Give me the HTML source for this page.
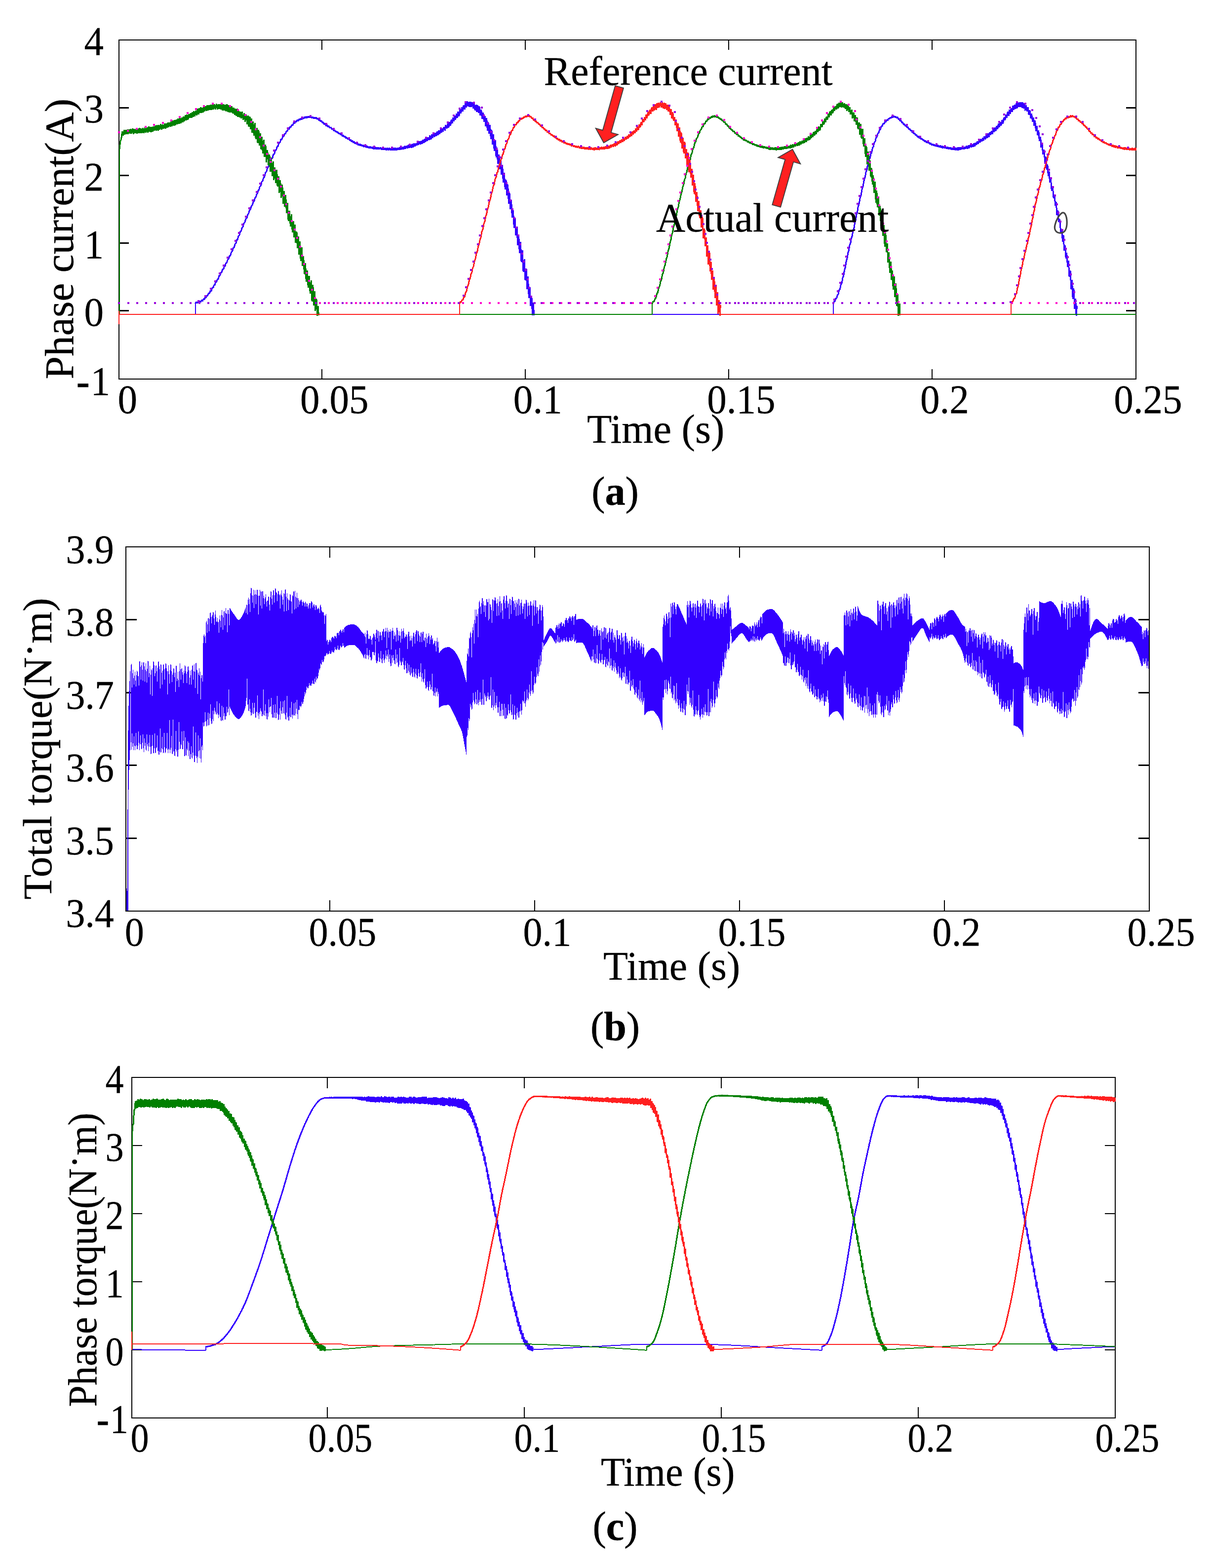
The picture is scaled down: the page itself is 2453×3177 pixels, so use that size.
<!DOCTYPE html>
<html lang="en">
<head>
<meta charset="utf-8">
<title>Phase current, total torque and phase torque</title>
<style>
html, body { margin: 0; padding: 0; background: #fff; }
body { width: 2453px; height: 3177px; overflow: hidden; }
svg { display: block; }
svg text { font-family: "Liberation Serif", serif; fill: #000; }
</style>
</head>
<body>
<svg width="2453" height="3177" viewBox="0 0 2453 3177">
<rect width="2453" height="3177" fill="#fff"/>
<g id="plot-a">
<rect x="241" y="81" width="2060" height="687" fill="none" stroke="#000" stroke-width="2" shape-rendering="crispEdges"/>
<path d="M652,768v-20M652,81v20M1064,768v-20M1064,81v20M1476,768v-20M1476,81v20M1888,768v-20M1888,81v20" stroke="#000" stroke-width="2" fill="none" shape-rendering="crispEdges"/>
<path d="M241,218.5h20M2301,218.5h-20M241,355.5h20M2301,355.5h-20M241,492.5h20M2301,492.5h-20M241,629.5h20M2301,629.5h-20" stroke="#000" stroke-width="3" fill="none" shape-rendering="crispEdges"/>
<path d="M241,637.0H395.5M395.5,637.0V613M1081.4,637.0H1688.2M1688.2,637.0V613M2181.4,637.0H2301" stroke="#3300FF" stroke-width="2" fill="none" shape-rendering="crispEdges"/>
<path d="M395.5,615.1L397.3,611.7L399.1,614.7L401,611.4L402.8,613.7L404.8,610.1L406.5,611.9L408.5,608.1L410,610.6L412.1,605.6L414,606.8L415.4,602.5L416.9,603.6L418.5,599.3L420.3,599.7L422.3,594.3L424.2,594.8L426.2,589.2L427.8,590L430,583L431.9,582.8L433.5,577.3L435,577.7L436.7,571.3L438.4,571.8L440.5,565.3L442.1,565.4L443.9,558.7L445.6,558.5L447.5,552.2L449.1,552L450.8,545.9L452.8,545.1L454.4,539.6L455.9,539.6L457.5,533.3L459.2,532.6L461.2,526.2L463.1,524.8L464.8,518.7L466.5,518.4L468.5,511L470.6,509.3L472.3,502.5L474.2,501.2L476.3,493.8L478,493L479.6,486.1L481.1,485.2L483,478.3L484.9,476.6L486.6,469.2L488.4,468.3L490.5,460.6L492,460L494.1,452.1L495.6,451.4L497.8,443.6L499.9,441.8L501.8,434.4L503.3,433.5L505.4,426.2L507.4,424.4L509.4,416.9L511,415.9L513,409L514.6,408L516.7,400.2L518.3,399.8L519.9,393.2L521.5,392L523,385.8L524.7,384.7L526.2,378.2L528.3,376.4L530.2,368.4L532.1,366.7L533.6,360.6L535.7,358.2L537.8,350.1L539.7,348.1L541.7,340.5L543.8,337.9L545.6,330.8L547.7,329.3L549.7,321.7L551.8,320.2L553.7,312.9L555.8,311.6L557.8,304.2L559.6,303.6L561.4,297L563.2,296L565.1,289.3L567.2,288.9L568.9,282.6L570.8,282.6L572.8,276.7L574.8,276L576.7,270.6L578.3,271.3L580.1,265.7L582.2,265.8L583.6,261.4L585.6,261.8L587.1,257L589,258.1L591.1,253L593,253.6L594.8,248.9L596.9,250.3L598.6,245.6L600.3,247.1L602.1,243L604.1,245.2L606.2,241.2L607.8,243.3L609.4,239.8L611.2,241.9L613,238.3L615,240.7L616.8,237.2L618.3,239.7L619.7,236.1L621.6,238.7L623.6,236L625.1,238.7L626.6,235.6L628.2,238.6L629.7,236L631.4,239.3L633.3,236.4L635.5,240.1L637.1,237.4L638.6,240.3L640.4,238L642,241.6L643.7,239.4L645.5,243.6L647.5,241.9L649.5,246.5L651,244.2L652.9,248.7L654.7,247.3L656.8,251.9L658.6,250.1L660.7,254.9L662.4,252.7L664,256.9L666,255.1L668,259.3L670.1,257.6L672.2,262.3L674.2,260.7L676.3,265.2L678,263.4L679.8,267.2L681.8,265.5L683.2,269.6L684.7,267.2L686.3,271.2L688.3,269.8L689.8,273.5L691.8,271.5L693.7,276.1L695.5,273.7L697,277.7L698.9,276.2L700.8,280.4L702.6,278.2L704.5,282.4L706.2,280.4L708.3,284.7L710.3,282.8L712.2,287.2L713.7,285L715.5,289.2L717,286.5L718.8,290.8L720.8,288.6L722.6,292.8L724.1,290L725.9,294.3L728,291.6L729.7,295.1L731.5,292.3L733.6,296.5L735.2,293.8L737.1,297.9L738.7,294.2L740.1,298.1L741.7,295L743.4,299.1L745.3,296.3L747.2,299.8L749.1,296.9L750.6,300.8L752.4,297.4L754.1,301.4L755.7,298L757.6,301.9L759.4,297.8L761.3,302.5L762.9,298.2L764.9,302.9L766.6,298.8L768.7,302.7L770.8,298.7L772.4,303.1L774.3,299.5L775.9,303.9L777.6,299.2L779.1,303.7L781.1,300.1L782.6,304.2L784.7,299.3L786.3,304.3L788.3,299.8L790.2,304.1L791.7,300.3L793.1,304.5L795,299.8L796.5,304.2L798.1,299.4L800.2,304.9L801.7,299.9L803.9,304.2L805.9,299.2L807.6,303.8L809.4,298.3L810.8,303.6L812.9,298.2L814.7,303L816.4,297.4L817.9,302.2L819.4,295.9L821.4,301.7L823.5,295.2L825.2,300.8L827,293.9L829,299.5L831.1,293.1L833.1,299.3L834.9,291.9L836.9,298.2L838.9,290.8L840.7,297.1L842.1,290.2L843.9,295L845.6,288.4L847.5,293.9L849.6,286.6L851.3,292.9L853.2,285.1L854.9,291.8L856.8,283L858.8,289.9L860.2,281.3L862.2,287.1L863.9,280.1L865.5,285.5L867,278L869.1,283.9L870.9,274.7L872.8,282.6L874.7,272.7L876.2,280.1L878.1,271.9L880.3,277.1L882,269.4L883.8,275.8L885.3,266L887.1,273.7L888.9,264.6L890.6,271.7L892.4,262.3L894.4,268.6L895.8,259.9L897.3,266.2L899.3,257L901.4,264.3L902.8,253.1L905,260.2L907.1,250.5L908.8,258.7L910.5,247.1L912.6,254.5L914.3,242L916.4,250.1L917.9,238.5L919.7,245.4L921.1,234.7L922.7,242.3L924.6,230.6L926.2,238.4L928,225.9L929.8,235.4L931.9,221.7L933.5,229.6L935.6,217.3L937.5,225.5L939.1,213.2L941,222L942.9,208.9L944.4,217.9L946.6,205.6L948.7,215.5L950.1,206.3L951.9,217.1L953.4,205.9L954.9,216.9L956.8,207L958.7,219.8L960.5,209.7L962.2,223.3L964.2,212.3L965.8,226.4L967.7,212.7L969.2,228.5L970.9,215.6L972.6,233.6L974.7,222.3L976.6,240.9L978.7,227.9L980.4,246.4L982.4,235.3L983.9,255.8L985.7,238.7L987.4,265L988.9,247.3L990.8,270.9L992.5,252.9L994.4,282.1L995.9,263.6L997.9,292.6L999.4,271.8L1001.3,306.3L1003.4,283.8L1005.2,319.2L1006.8,299.1L1008.5,332.2L1010.6,313L1012.3,342.6L1014,324L1015.7,353.6L1017.6,334L1019.4,370.1L1021.3,350.3L1023.3,384.2L1024.9,364.5L1026.7,395.7L1028.6,373.6L1030.5,412.8L1031.9,390.4L1034,424.2L1035.5,404.9L1037.5,440.6L1039.4,426.4L1041.4,461.6L1043,442.1L1045,477.3L1047,459.1L1048.7,496.9L1050.6,475.1L1052.4,513L1054.4,489.7L1056.1,531.4L1058.1,506.8L1060.1,550.6L1062.2,525.1L1064.1,568.2L1066,544.2L1067.7,585.8L1069.3,560.2L1071.4,604L1073,581.8L1074.8,620.2L1076.9,601.4L1078.6,638.6L1080.5,613.3L1081.4,639.1" stroke="#3300FF" stroke-width="3.0" fill="none" stroke-linejoin="bevel" shape-rendering="crispEdges"/>
<path d="M1688.2,615.3L1689.7,610.5L1691.2,610.7L1692.8,604.9L1694.7,604L1696.3,597.6L1697.9,596.6L1699.5,588.7L1701.5,585.6L1703.2,577.1L1705.3,573.1L1707.1,562.7L1708.9,557.9L1710.4,547.9L1712.4,541.2L1714.2,529.2L1715.8,524.3L1717.8,512L1719.2,508.1L1720.9,497.5L1722.9,492.3L1724.4,482.9L1726.1,478.5L1728.2,466.7L1730.1,461.5L1731.7,450.6L1733.2,446.2L1734.7,435.8L1736.7,429.1L1738.2,419L1740.2,412.6L1742,401.7L1744.1,395.1L1746.2,382.9L1748.2,376.8L1750.3,364.9L1752.3,358.8L1754.1,348.4L1755.7,345.3L1757.3,335.8L1758.8,332.8L1760.6,323.4L1762.3,320.5L1763.8,312.1L1765.6,309.2L1767.6,299L1769.1,297.4L1771,288.8L1772.9,286.4L1774.3,279.4L1776.4,277.5L1778.2,270.3L1779.9,269.2L1781.6,262.6L1783.3,262L1784.9,256.1L1786.9,255.6L1789,250L1791,250.8L1793,246.2L1794.6,247.1L1796.5,242.5L1798.1,244.2L1800.1,239.6L1801.6,241.3L1803.2,237.8L1804.9,239.3L1807,235.7L1808.8,238.2L1810.8,234.6L1812.5,237.7L1814.3,235.6L1816,239.1L1818.1,237.2L1820.1,242L1821.5,240.4L1823.2,245L1824.7,243.6L1826.5,248.6L1828.5,247.5L1830.1,252.3L1832.2,251.2L1833.9,255.7L1835.4,253.8L1837.6,258.8L1839.5,257.4L1841.1,262.3L1843,261L1844.5,265L1846.4,263.8L1848,268.7L1849.7,267L1851.3,271.6L1852.8,269.4L1854.6,274.3L1856.5,272.9L1858.6,277.7L1860.6,275.9L1862.1,280.2L1863.8,277.8L1865.4,282.1L1867.4,280.5L1869.3,284.2L1870.7,282.6L1872.9,286.9L1874.8,284.9L1876.7,289L1878.4,286.6L1880.5,290.5L1882,288.5L1883.6,292.3L1885.4,290.2L1887.2,293.8L1889.1,291.4L1891,295L1892.9,292.7L1895,296.5L1896.8,293.5L1898.7,297.6L1900.7,294.1L1902.5,298.8L1904.5,294.9L1906.3,299.3L1908.1,295.6L1909.9,300.2L1911.7,296.3L1913.4,300.6L1915.3,297L1917.3,301.8L1919.3,298.1L1921.1,302L1922.7,298.5L1924.5,302.8L1925.9,298.6L1927.8,303L1929.4,299.2L1931,303.2L1933.1,298.8L1935,304.2L1936.8,299L1938.4,304.2L1940.2,298.8L1941.8,304.1L1943.3,298.8L1945.4,303L1947,298.5L1948.7,302.6L1950.8,297.2L1952.5,302.2L1954.4,297.1L1955.8,302.1L1957.5,295.8L1959.6,301.3L1961.4,294.9L1963,300.3L1965.1,293.8L1967.2,298.5L1968.9,292.5L1971,298L1972.6,290.4L1974.2,296.5L1975.7,289.5L1977.6,294L1979.7,286.1L1981.7,291.4L1983.6,283.4L1985.4,288.9L1987,281.9L1988.9,286.7L1990.5,279.5L1992.4,285.1L1994.1,276.1L1996.2,282.2L1997.8,273.9L1999.9,279.6L2001.5,270.5L2003,277.8L2004.8,267.9L2006.6,273.4L2008.5,265.1L2010.1,271.7L2011.6,262.3L2013.6,267.7L2015.2,258.4L2016.8,265.9L2019,255.6L2020.7,261.9L2022.5,250.4L2024.3,257.4L2026.1,247.1L2027.8,254.6L2029.8,243L2031.6,250.4L2033.5,238L2035.7,243.6L2037.7,232.8L2039.5,238.3L2041.3,226.4L2043.3,234.5L2044.9,222.2L2046.5,230.3L2048.3,219.3L2050.2,227L2052,214.2L2053.6,223L2055.1,212.3L2056.8,220.9L2058.4,208.8L2059.9,219.8L2061.8,207.4L2063.8,216.9L2065.3,207.1L2066.8,217.2L2068.7,207L2070.3,219.1L2071.8,207.6L2073.4,220.2L2075,209.7L2077,224.3L2078.5,213L2080.2,225.6L2082.3,217.6L2084.1,232.3L2086.3,223.7L2088,239.9L2089.5,230.1L2091.6,246.4L2093.3,238.4L2095,254.5L2096.5,243.7L2098.5,265.6L2100.1,255.5L2101.9,274.3L2103.7,264L2105.4,285.9L2107.6,277.3L2109,298.6L2110.9,290.7L2112.6,312.6L2114.7,302.9L2116.8,328.2L2118.5,317.4L2120.2,343.7L2121.8,333.1L2123.4,356.4L2124.9,346.7L2126.5,369.4L2128.2,359.7L2130.3,386.8L2132.4,378.9L2134.1,401.3L2136.1,394.6L2137.7,417.3L2139.3,409.5L2141,435.9L2142.9,426.5L2144.6,450.1L2146.8,444.1L2148.7,472L2150.8,465.1L2152.5,489.5L2154,476.5L2155.7,507.8L2157.5,496.7L2159.2,524.2L2160.7,511.9L2162.6,541.2L2164.2,528.1L2166.1,561.1L2168,548.4L2170,586.4L2171.5,567.4L2173.2,605.7L2174.9,584.5L2177,626.1L2178.6,605.3L2180.2,640L2181.4,619.5" stroke="#3300FF" stroke-width="3.0" fill="none" stroke-linejoin="bevel" shape-rendering="crispEdges"/>
<path d="M241.6,637.0V300M645.2,637.0H1321M1321,637.0V613M1822.5,637.0H2301" stroke="#008000" stroke-width="2" fill="none" shape-rendering="crispEdges"/>
<path d="M242,302L243.7,287.3L245.8,280L247.7,266.7L249.8,274.4L251.4,262.8L252.9,272.5L254.7,263.4L256.4,271.7L258.2,262.4L259.7,271.4L261.5,262.2L263.4,270.7L264.9,261.5L266.7,270.3L268.5,260.5L270.4,271.3L271.8,261L273.5,269.8L275.3,261.5L277.1,270.7L278.8,260.8L280.5,269.3L282.2,259.3L284,269.6L285.9,260.5L287.7,270L289.8,259.7L291.7,270.2L293.7,258.6L295.6,268.4L297.3,258.7L299.3,268.8L301.1,256.6L302.5,266.6L304.3,257.3L306,267.7L307.6,256.8L309.2,266.4L310.8,256.5L312.6,265L314.2,254.7L316.1,264.6L318,253.7L320.1,264.6L321.7,253.3L323.8,262.4L325.8,251.7L327.7,262.9L329.7,251.9L331.6,261L333.5,250.6L335.1,260.7L337,250L338.6,258.9L340.1,248.5L341.7,257.5L343.2,248.6L345.1,256.6L346.9,246L348.7,255.6L350.7,244.5L352.2,254.6L354,243.4L355.7,254.2L357.3,242.2L359,251.9L361,240.2L363,250.6L364.8,238.8L366.7,249.5L368.7,238.2L370.4,247.4L372,236.5L373.5,245.7L375.6,233L377.1,244.1L378.9,232.1L380.6,242.9L382.7,231.3L384.7,239L386.2,229L388.1,239.2L389.7,227.2L391.1,236.7L392.9,225.5L394.6,235.7L396.6,224L398.3,233.5L400.3,220.6L402,231.9L403.9,219.4L405.4,229.2L406.9,217.7L408.6,228.6L410.1,217.8L411.5,227.6L413.1,216L414.7,225.8L416.5,215.5L418.1,224.3L419.6,213.3L421.3,223.3L422.9,213.2L425,222.5L427.1,211.9L428.8,222.8L430.5,212L432.4,221.7L434.3,210.9L436.4,221.8L438.5,210.4L440.6,221.6L442.1,211.4L443.7,220.5L445.2,210.8L447.2,221.5L449,212L450.6,223.7L452,211.1L454.1,224L456,212L458,225.3L460,211.5L461.5,226.9L463.3,213.2L464.9,228.1L466.4,214.5L468,228L469.7,215.5L471.7,229.7L473.6,218L475.2,233.2L476.9,220.4L478.6,234.7L480.2,220.2L482,236.6L483.6,224L485.1,237.6L486.9,226.1L488.7,240.1L490.3,226.6L492.5,242.7L494.5,229.5L496.5,246.4L498.7,231.9L500.8,251.9L502.5,234.1L504.1,256.7L506,236.6L507.7,261.7L509.4,240.1L511,269.2L512.7,245.8L514.3,274.8L516.3,249.6L518.2,281.7L520.1,259.6L522.1,290.3L523.9,263.4L525.6,295.3L527.2,270.3L529.1,303.2L530.6,277.1L532.3,310.7L534.2,283.3L535.7,317.8L537.9,293L539.5,328.5L541.7,304.1L543.8,335L545.9,313.6L547.5,348.3L549.4,318.9L551.5,357.1L553.3,327.1L554.8,365L556.7,339.4L558.7,371.4L560.6,344.2L562.1,378.2L564.1,357.3L565.9,390.6L567.7,365.4L569.7,401.1L571.7,374.4L573.8,412.9L575.3,387.1L576.8,418.5L578.5,395.1L580.6,432.3L582.1,411L584.2,448.2L586.3,426.9L588.4,459.2L590.3,433.9L592.3,470.5L594.2,447.9L595.7,481.1L597.3,455.5L599,492.3L600.9,468.8L602.5,503.4L604.2,479.4L605.8,515.7L607.6,489.4L609.2,528.7L611.1,500.7L612.8,539.2L614.6,519L616.5,555.4L618.5,533.5L620.3,571L622.4,547.7L624.3,583L626.2,559.4L628.3,595L630.3,567.9L632.1,610.8L633.8,577.2L635.7,618.7L637.2,590.3L638.8,630L640.9,604.8L642.9,639.5L644.6,620.5L645.2,639.2" stroke="#008000" stroke-width="3.0" fill="none" stroke-linejoin="bevel" shape-rendering="crispEdges"/>
<path d="M1321,615.3L1323.1,610.6L1324.9,611.3L1327,605.1L1328.7,603.5L1330.6,594.7L1332.3,592.7L1334.4,583.1L1336.3,579.5L1338,570.5L1339.7,567.3L1341.6,556.7L1343.7,551.7L1345.5,541.2L1347.4,536.7L1349.5,525L1351.3,520.1L1353.2,509.1L1355.4,502.1L1357.1,491.9L1358.8,487L1360.3,477.3L1362.2,471.6L1364.2,460L1366.2,454L1368.2,442.3L1370,436.8L1372,424.8L1374.1,418.6L1375.8,408.6L1377.6,403.6L1379.6,392.5L1381.4,387.6L1383.3,377.5L1384.8,374L1386.4,364.2L1388.1,360.8L1389.5,352.3L1391.3,348.3L1393.1,338.5L1394.6,336.3L1396.1,327L1398,323.6L1399.8,313.6L1402,309.3L1403.4,301.8L1405.5,298.3L1407.4,289.8L1409.2,287.4L1410.8,280.9L1412.9,278.6L1414.9,271.1L1416.7,269.7L1418.3,263.8L1420.4,262.5L1422.2,256.5L1424.3,256.6L1426.1,250.5L1428.2,250.4L1429.9,245.1L1431.5,246.1L1433.2,241.2L1434.9,242.6L1436.7,238.6L1438.8,239.9L1440.6,236.3L1442.3,238.4L1443.8,235.1L1445.5,237.6L1447.1,234.2L1448.9,237L1450.6,234.4L1452.1,238.2L1454.2,236.3L1456.1,240.2L1457.7,238.4L1459.6,242.5L1461.4,240.9L1463.4,245L1464.9,243.7L1466.5,248.2L1468.2,246.6L1470,251.5L1471.9,251.1L1474.1,256.4L1475.7,255.2L1477.8,260.4L1479.7,259.5L1481.6,263.8L1483.5,262.7L1485.6,267.6L1487.1,265.6L1489.1,270.5L1490.5,268.6L1492.3,273.3L1494.4,271.7L1495.9,276.3L1497.7,274.4L1499.4,278.8L1501.1,277.4L1502.8,281.5L1504.3,279.6L1506.3,283.8L1508.2,282.1L1509.7,285.6L1511.8,283.8L1513.9,287.8L1515.7,285.7L1517.7,289.7L1519.8,287.7L1521.2,291.6L1523,289L1525.1,293.4L1527,290.9L1529,294.7L1531,292.5L1532.8,296.3L1534.5,293.7L1536.2,297.7L1538,294.5L1539.9,298.9L1541.6,295.2L1543.4,299.9L1545,295.8L1546.7,300L1548.6,296.6L1550.2,300.7L1552.3,297.5L1554.2,301.8L1556.1,298L1558.3,303L1560,298.6L1561.6,303.4L1563.2,299.1L1565.2,303.1L1567.1,299.2L1569,303.7L1570.5,298.9L1572.5,304.2L1574,298.9L1575.6,303.5L1577.5,298.7L1579,303.9L1580.8,298L1582.9,303.4L1584.6,297.3L1586.6,302.4L1588.7,296.7L1590.3,301.8L1591.7,296.3L1593.4,301.2L1595,296L1596.8,300.5L1598.4,295L1600.2,300.6L1601.8,293.4L1603.8,299.5L1605.7,292.5L1607.5,298.6L1609.6,291.1L1611.2,296.6L1613.3,290.3L1615.4,295.4L1617.1,288.7L1619.1,294.8L1620.9,286.6L1622.6,292.3L1624.7,285.4L1626.8,290.9L1628.3,282.3L1629.8,289.3L1631.3,280.5L1633,288L1634.5,279L1636,284.8L1637.8,276.1L1639.8,283.4L1641.8,273.7L1643.3,280.2L1644.8,271L1646.5,277.4L1648.1,267.7L1649.9,274.3L1651.4,264.9L1653.2,272L1655,261.8L1656.7,267.4L1658.6,256.5L1660.8,264.3L1662.9,251.7L1665,257.3L1666.8,246.6L1668.7,253L1670.6,240L1672.1,247.6L1674.2,236L1675.8,242.8L1677.9,230.6L1679.4,237.8L1681.3,225.1L1683.2,233.3L1685.2,222.1L1686.7,230L1688.8,216.6L1690.5,225.2L1692.2,214.9L1694.2,221.7L1696.1,210.4L1697.8,220L1699.5,208.7L1701.6,217L1703.2,207.3L1704.9,218L1706.6,207.4L1708.5,218.1L1710.3,208.8L1712.4,220.6L1714,211.1L1715.7,224.8L1717.6,212.3L1719.5,226.7L1721.4,217.6L1723,232.2L1725.2,222L1726.9,239.7L1729,227.7L1730.6,245.8L1732.6,233.1L1734.6,253.1L1736.2,238.1L1738.2,262.3L1740.2,248.4L1742,272.4L1743.5,251.5L1745.1,280.7L1747.1,260.7L1749.3,296.9L1751.4,280.5L1753.3,317.6L1754.9,295.6L1756.8,332.6L1758.8,307.4L1760.6,345.6L1762.1,325.3L1764.2,359.4L1765.8,340.6L1767.3,374.3L1768.8,355.4L1770.6,391L1772.5,367.7L1774.3,410.5L1775.8,386.3L1777.3,420.4L1779.3,397.9L1781.1,437.4L1782.8,416.6L1784.4,457.7L1786.6,435.8L1788.4,478.2L1790.2,455.9L1792.3,499.6L1793.8,471.1L1795.5,511.2L1797.1,493.1L1799,532.1L1800.5,511.5L1802.5,553.1L1804.4,530.1L1806,567.4L1807.7,548.2L1809.3,587L1811,560.1L1812.9,601.6L1814.6,573.7L1816.4,620.4L1818.3,595.9L1819.9,639.5L1822.1,614.7L1822.5,639" stroke="#008000" stroke-width="3.0" fill="none" stroke-linejoin="bevel" shape-rendering="crispEdges"/>
<path d="M241.0,630V657M241,637.0H931.1M931.1,637.0V613M1459.2,637.0H2047.9M2047.9,637.0V613" stroke="#FF2020" stroke-width="2" fill="none" shape-rendering="crispEdges"/>
<path d="M931.1,615L932.7,611.1L934.3,612.7L935.8,607.6L937.5,608.4L939.4,602.5L941.2,601L943.4,592.1L945.1,589.3L946.9,580.7L948.7,577L950.5,567.9L952.3,564.5L954.2,554.7L955.8,552L957.3,543.3L958.9,540.6L961,529.8L963,524.4L964.8,514.5L966.9,509.2L968.7,499.4L970.7,494.1L972.4,484.6L974,481.2L976,469.5L978.1,464.4L980.2,453.1L982.2,448.2L983.7,438.6L985.4,434.8L987.5,423.8L989.3,419L991.3,407.9L993.4,402.9L995.3,392.4L997.2,387.5L999.4,376.4L1001.1,373.2L1003,363L1005.1,358.4L1006.7,349.7L1008.2,347.9L1010.2,337.7L1012.2,334L1014.3,324.1L1016.1,321.3L1017.8,313.4L1019.4,311.5L1021,303.5L1023,301L1024.8,293L1026.4,291.4L1028.3,283.7L1030.5,281.3L1032.6,273L1034.2,272.7L1036.1,265L1038.1,264.1L1039.7,258.2L1041.5,258.1L1043.6,252.5L1045.4,253.2L1047,248.2L1048.9,248.6L1050.5,244.3L1052,245.5L1053.8,240.7L1055.7,242.5L1057.5,238.7L1059.2,240.7L1060.8,236.5L1062.7,238.6L1064.5,234.5L1066.7,237.1L1068.3,233.5L1070.4,236.5L1072,233.7L1073.5,237.3L1075.3,235.9L1077.3,240.4L1079,238.7L1080.9,243.8L1082.6,242.4L1084.2,246.7L1086.3,245.3L1087.8,249.4L1089.4,247.9L1091.1,252.3L1092.9,251L1094.9,255.7L1096.8,254.4L1098.7,258.9L1100.6,258.2L1102.1,262.3L1103.5,260.9L1105.3,265.1L1106.8,263.2L1108.8,268.2L1110.7,266.9L1112.8,271.2L1114.5,269.9L1116.6,274.1L1118.3,272.4L1120.4,276.6L1122.4,275.1L1124.2,279.3L1125.9,277.6L1127.6,281.7L1129.3,279.9L1131.3,284L1133.1,281.9L1134.9,286L1136.9,284L1139,288.3L1140.9,286.1L1142.5,290.3L1144.7,287.8L1146.6,291.8L1148.5,289.6L1150.5,293.4L1152.6,291L1154.6,294.6L1156.3,292L1157.9,296.2L1159.5,293.2L1161.7,297.1L1163.8,294.7L1165.7,298.8L1167.7,295.4L1169.6,299.7L1171.6,295.9L1173.4,300.1L1175.4,296.7L1177.2,301.3L1178.7,297L1180.4,301.6L1182.5,297.9L1184.4,302.1L1186.2,298.4L1188.1,302.9L1190,298.8L1192,303L1193.5,298.8L1195.3,303.4L1197.5,299.1L1199.6,303.6L1201.6,299.7L1203.2,304.1L1205.2,299L1206.9,303.7L1208.6,299.1L1210,303.7L1212,299.2L1213.6,304L1215.7,298.6L1217.3,302.8L1218.8,297.6L1220.8,302.6L1222.6,297L1224,302.7L1226.1,296.9L1228,302L1229.7,295.4L1231.3,301.2L1233,295.1L1235,300.4L1236.9,293.1L1238.5,298.8L1240.4,292.8L1242.5,297.3L1244.3,290.6L1246.3,296.4L1248.2,288.9L1249.9,294.3L1251.5,286.1L1253.6,291.7L1255.3,284.8L1257.2,289.4L1259.2,282.8L1261.2,288L1263.1,280.4L1264.6,285.8L1266.7,277.3L1268.8,282.7L1270.3,275.7L1272.2,280.5L1273.9,272.1L1275.8,278.1L1277.6,269.7L1279.4,275.4L1281.1,266.8L1282.8,272.5L1284.2,264L1286.1,269.6L1287.6,259.9L1289.4,267.1L1291.1,256.4L1293,263.4L1295,251.9L1296.8,258.2L1298.5,247.3L1300.2,253.5L1302.1,241.3L1304.2,247.2L1305.6,236.9L1307.1,244L1309,231.9L1310.5,239.3L1312.6,226.2L1314.5,234.2L1316.3,222.4L1318.1,230.9L1320.3,217.7L1322.3,225.8L1323.9,214.4L1325.8,223.9L1327.4,211.7L1329.2,222.4L1330.7,209L1332.2,218.7L1333.9,207.9L1335.4,218.2L1337.5,207.1L1339.5,217.6L1341.4,207.5L1343.2,219.3L1345.1,208.5L1346.9,220.8L1348.5,209.7L1350.4,222.5L1352,212.3L1353.6,225.9L1355.6,216.4L1357.7,232.6L1359.3,220.8L1360.9,239.4L1362.8,227.5L1364.3,244.9L1366.3,237.1L1367.9,254.3L1369.5,242.6L1371.6,265.7L1373.2,249.8L1374.8,277.3L1376.7,258.4L1378.2,288.5L1379.9,267.9L1381.5,301.2L1383.1,278.8L1385.2,311.3L1386.9,287.3L1388.8,321.3L1390.4,302L1392,336.3L1393.9,309.1L1395.9,348.6L1397.6,324.2L1399.4,359.6L1401.2,342L1403,376.4L1404.5,353.8L1406.2,393.4L1407.7,371.3L1409.8,409.1L1411.6,389.1L1413.6,428.4L1415.2,406.9L1417.2,441.4L1419.2,426.1L1420.8,461L1422.9,439.5L1424.8,482.7L1426.8,462.7L1428.8,499L1430.4,480.9L1431.9,519.5L1433.6,496.8L1435,536.4L1436.9,508.9L1438.4,549.6L1440,530.4L1441.5,567.2L1443.4,547.9L1445,587L1446.7,563.4L1448.6,603.5L1450.3,577.1L1451.8,619.3L1453.3,592.3L1454.8,636.4L1456.6,608.1L1458.5,639.7L1459.2,618.4" stroke="#FF2020" stroke-width="3.0" fill="none" stroke-linejoin="bevel" shape-rendering="crispEdges"/>
<path d="M2047.9,615.2L2050,610.7L2051.6,611.1L2053.6,604.7L2055.6,604.2L2057.1,597.4L2059.2,593.9L2060.7,584.4L2062.7,578.9L2064.4,567.2L2066.5,559.5L2068.4,546.6L2070.5,539.7L2072.4,527.8L2074,524.3L2075.8,513.7L2077.8,507.5L2079.7,496.7L2081.4,492.3L2083,482.3L2085,476.3L2086.7,465.7L2088.6,459.1L2090.7,446.4L2092.5,439.8L2093.9,430.1L2095.4,425.5L2097,414.4L2098.9,408.6L2100.9,397.5L2102.7,393L2104.7,381.3L2106.5,377.7L2108.2,368.4L2110.2,363.9L2112.1,354.1L2114.1,349.9L2115.7,340.9L2117.2,338L2119,329.3L2120.9,325.1L2122.9,315L2124.3,312.9L2125.8,305.3L2127.8,301.9L2129.7,293L2131.4,291.2L2133.3,283.4L2134.9,281.4L2136.5,274.9L2138.3,272.7L2140.2,265.3L2141.8,264.6L2143.8,257.9L2145.8,257.6L2147.7,251.4L2149.6,252L2151.3,246.3L2153.2,246.9L2154.6,242.3L2156.2,243.6L2158.1,239L2159.5,240.8L2161.4,237L2163.6,239.3L2165.2,235.5L2167,238L2168.7,234.1L2170.5,237L2172.3,234.1L2174.5,237.1L2176.2,235.4L2178.1,239L2179.7,237.5L2181.6,242.1L2183.3,240.6L2185,245.3L2186.6,243.9L2188.7,248.4L2190.2,247L2192.3,251.6L2193.8,249.8L2195.4,254.4L2197.3,253.6L2199.4,258.5L2200.9,257.1L2202.4,261.7L2204.3,261.2L2206.4,266.6L2208,265.5L2209.9,270.2L2211.6,268.7L2213.1,273.7L2214.6,271.8L2216.8,277L2218.4,275.2L2220.5,280L2222,277.9L2223.5,281.9L2225.7,280.1L2227.3,284.4L2228.9,282.7L2230.9,286.9L2232.6,284.8L2234.5,289L2236.3,287.1L2237.8,290.5L2239.9,288.6L2241.8,292.6L2243.5,290.5L2245.6,294.4L2247.1,291.6L2249,295.7L2251,292.9L2253.1,297.4L2254.8,294L2256.5,298L2258.2,294.9L2259.9,299L2262,295.8L2263.9,300.4L2265.6,296.7L2267.2,300.8L2268.7,297.2L2270.9,301.6L2272.6,298.5L2274.1,302.4L2276.2,299L2277.8,303.1L2279.4,298.7L2281.1,303.2L2282.7,299.5L2284.4,303.4L2286.4,300L2288.3,304.3L2290,300.1L2291.5,303.9L2293.5,299.9L2295,304.5L2296.8,300.3L2298.3,304.7L2300,299.7L2301,305.2" stroke="#FF2020" stroke-width="3.0" fill="none" stroke-linejoin="bevel" shape-rendering="crispEdges"/>
<path d="M239,266h4v4h-4zM257,263h4v4h-4zM275,259h4v4h-4zM293,255h4v4h-4zM310,251h4v4h-4zM328,247h4v4h-4zM345,242h4v4h-4zM362,235h4v4h-4zM378,227h4v4h-4zM395,219h4v4h-4zM411,213h4v4h-4zM429,208h4v4h-4zM447,208h4v4h-4zM464,213h4v4h-4zM480,221h4v4h-4zM495,231h4v4h-4zM507,245h4v4h-4zM516,260h4v4h-4zM525,276h4v4h-4zM532,293h4v4h-4zM539,310h4v4h-4zM546,326h4v4h-4zM554,343h4v4h-4zM561,360h4v4h-4zM567,376h4v4h-4zM573,394h4v4h-4zM578,412h4v4h-4zM583,429h4v4h-4zM589,446h4v4h-4zM595,463h4v4h-4zM600,480h4v4h-4zM606,498h4v4h-4zM610,516h4v4h-4zM614,533h4v4h-4zM619,551h4v4h-4zM624,567h4v4h-4zM630,585h4v4h-4zM636,602h4v4h-4zM646,612h4v4h-4zM664,612h4v4h-4zM682,612h4v4h-4zM700,612h4v4h-4zM719,612h4v4h-4zM737,612h4v4h-4zM755,612h4v4h-4zM773,612h4v4h-4zM791,612h4v4h-4zM809,612h4v4h-4zM827,612h4v4h-4zM845,612h4v4h-4zM863,612h4v4h-4zM881,612h4v4h-4zM900,612h4v4h-4zM918,612h4v4h-4zM936,612h4v4h-4zM954,612h4v4h-4zM972,612h4v4h-4zM990,612h4v4h-4zM1008,612h4v4h-4zM1026,612h4v4h-4zM1044,612h4v4h-4zM1062,612h4v4h-4zM1081,612h4v4h-4zM1099,612h4v4h-4zM1117,612h4v4h-4zM1135,612h4v4h-4zM1153,612h4v4h-4zM1171,612h4v4h-4zM1189,612h4v4h-4zM1207,612h4v4h-4zM1225,612h4v4h-4zM1243,612h4v4h-4zM1262,612h4v4h-4zM1280,612h4v4h-4zM1298,612h4v4h-4zM1316,612h4v4h-4zM1325,598h4v4h-4zM1330,581h4v4h-4zM1335,564h4v4h-4zM1340,546h4v4h-4zM1344,528h4v4h-4zM1348,511h4v4h-4zM1352,493h4v4h-4zM1356,475h4v4h-4zM1360,457h4v4h-4zM1364,440h4v4h-4zM1368,422h4v4h-4zM1372,405h4v4h-4zM1376,388h4v4h-4zM1381,369h4v4h-4zM1385,351h4v4h-4zM1390,334h4v4h-4zM1394,318h4v4h-4zM1399,300h4v4h-4zM1405,283h4v4h-4zM1412,266h4v4h-4zM1421,250h4v4h-4zM1433,236h4v4h-4zM1450,232h4v4h-4zM1465,241h4v4h-4zM1477,255h4v4h-4zM1491,267h4v4h-4zM1505,278h4v4h-4zM1521,286h4v4h-4zM1538,292h4v4h-4zM1556,295h4v4h-4zM1574,296h4v4h-4zM1592,293h4v4h-4zM1609,288h4v4h-4zM1626,280h4v4h-4zM1640,269h4v4h-4zM1653,257h4v4h-4zM1663,242h4v4h-4zM1673,227h4v4h-4zM1686,214h4v4h-4zM1701,204h4v4h-4zM1717,210h4v4h-4zM1730,223h4v4h-4zM1733,240h4v4h-4zM1741,256h4v4h-4zM1747,273h4v4h-4zM1751,291h4v4h-4zM1756,310h4v4h-4zM1760,327h4v4h-4zM1764,344h4v4h-4zM1768,362h4v4h-4zM1772,380h4v4h-4zM1776,398h4v4h-4zM1779,414h4v4h-4zM1783,433h4v4h-4zM1787,451h4v4h-4zM1790,469h4v4h-4zM1794,487h4v4h-4zM1797,504h4v4h-4zM1800,521h4v4h-4zM1803,539h4v4h-4zM1807,556h4v4h-4zM1811,575h4v4h-4zM1815,594h4v4h-4zM1818,610h4v4h-4zM1830,612h4v4h-4zM1848,612h4v4h-4zM1867,612h4v4h-4zM1885,612h4v4h-4zM1903,612h4v4h-4zM1921,612h4v4h-4zM1939,612h4v4h-4zM1957,612h4v4h-4zM1975,612h4v4h-4zM1993,612h4v4h-4zM2011,612h4v4h-4zM2029,612h4v4h-4zM2048,612h4v4h-4zM2066,612h4v4h-4zM2084,612h4v4h-4zM2102,612h4v4h-4zM2120,612h4v4h-4zM2138,612h4v4h-4zM2156,612h4v4h-4zM2174,612h4v4h-4zM2192,612h4v4h-4zM2210,612h4v4h-4zM2229,612h4v4h-4zM2247,612h4v4h-4zM2265,612h4v4h-4zM2283,612h4v4h-4z" fill="#FF00CC" shape-rendering="crispEdges"/>
<path d="M239,612h4v4h-4zM258,612h4v4h-4zM276,612h4v4h-4zM294,612h4v4h-4zM312,612h4v4h-4zM330,612h4v4h-4zM348,612h4v4h-4zM366,612h4v4h-4zM384,612h4v4h-4zM400,608h4v4h-4zM414,598h4v4h-4zM425,583h4v4h-4zM434,568h4v4h-4zM443,552h4v4h-4zM451,536h4v4h-4zM459,520h4v4h-4zM467,503h4v4h-4zM475,486h4v4h-4zM482,470h4v4h-4zM489,453h4v4h-4zM496,437h4v4h-4zM503,420h4v4h-4zM510,404h4v4h-4zM518,387h4v4h-4zM525,370h4v4h-4zM532,353h4v4h-4zM538,337h4v4h-4zM546,320h4v4h-4zM553,303h4v4h-4zM561,287h4v4h-4zM571,272h4v4h-4zM581,258h4v4h-4zM594,244h4v4h-4zM610,236h4v4h-4zM627,233h4v4h-4zM645,238h4v4h-4zM659,249h4v4h-4zM674,259h4v4h-4zM690,268h4v4h-4zM705,278h4v4h-4zM721,287h4v4h-4zM738,292h4v4h-4zM756,295h4v4h-4zM774,297h4v4h-4zM792,297h4v4h-4zM810,295h4v4h-4zM828,291h4v4h-4zM844,285h4v4h-4zM861,277h4v4h-4zM876,268h4v4h-4zM891,258h4v4h-4zM905,246h4v4h-4zM917,232h4v4h-4zM929,218h4v4h-4zM941,205h4v4h-4zM958,206h4v4h-4zM974,216h4v4h-4zM978,232h4v4h-4zM986,248h4v4h-4zM993,265h4v4h-4zM999,282h4v4h-4zM1004,300h4v4h-4zM1009,316h4v4h-4zM1014,334h4v4h-4zM1019,351h4v4h-4zM1024,369h4v4h-4zM1028,387h4v4h-4zM1032,404h4v4h-4zM1036,422h4v4h-4zM1040,440h4v4h-4zM1044,459h4v4h-4zM1048,475h4v4h-4zM1052,493h4v4h-4zM1056,512h4v4h-4zM1059,528h4v4h-4zM1063,545h4v4h-4zM1067,564h4v4h-4zM1070,581h4v4h-4zM1074,599h4v4h-4zM1081,612h4v4h-4zM1095,612h4v4h-4zM1114,612h4v4h-4zM1132,612h4v4h-4zM1150,612h4v4h-4zM1168,612h4v4h-4zM1186,612h4v4h-4zM1204,612h4v4h-4zM1222,612h4v4h-4zM1240,612h4v4h-4zM1258,612h4v4h-4zM1276,612h4v4h-4zM1295,612h4v4h-4zM1313,612h4v4h-4zM1331,612h4v4h-4zM1349,612h4v4h-4zM1367,612h4v4h-4zM1385,612h4v4h-4zM1403,612h4v4h-4zM1421,612h4v4h-4zM1439,612h4v4h-4zM1457,612h4v4h-4zM1476,612h4v4h-4zM1494,612h4v4h-4zM1512,612h4v4h-4zM1530,612h4v4h-4zM1548,612h4v4h-4zM1566,612h4v4h-4zM1584,612h4v4h-4zM1602,612h4v4h-4zM1620,612h4v4h-4zM1638,612h4v4h-4zM1657,612h4v4h-4zM1675,612h4v4h-4zM1688,605h4v4h-4zM1695,588h4v4h-4zM1700,571h4v4h-4zM1705,553h4v4h-4zM1708,536h4v4h-4zM1712,518h4v4h-4zM1716,500h4v4h-4zM1720,483h4v4h-4zM1724,466h4v4h-4zM1728,447h4v4h-4zM1731,430h4v4h-4zM1735,411h4v4h-4zM1739,395h4v4h-4zM1743,377h4v4h-4zM1747,360h4v4h-4zM1751,341h4v4h-4zM1756,324h4v4h-4zM1761,306h4v4h-4zM1766,290h4v4h-4zM1773,273h4v4h-4zM1780,257h4v4h-4zM1791,242h4v4h-4zM1806,232h4v4h-4zM1822,239h4v4h-4zM1835,251h4v4h-4zM1848,264h4v4h-4zM1862,275h4v4h-4zM1878,284h4v4h-4zM1895,290h4v4h-4zM1912,294h4v4h-4zM1930,296h4v4h-4zM1948,295h4v4h-4zM1965,290h4v4h-4zM1981,281h4v4h-4zM1996,270h4v4h-4zM2009,258h4v4h-4zM2022,245h4v4h-4zM2032,230h4v4h-4zM2044,216h4v4h-4zM2058,205h4v4h-4zM2075,208h4v4h-4zM2089,221h4v4h-4zM2097,237h4v4h-4zM2104,254h4v4h-4zM2110,270h4v4h-4zM2109,289h4v4h-4zM2114,305h4v4h-4zM2118,323h4v4h-4zM2123,342h4v4h-4zM2127,359h4v4h-4zM2131,377h4v4h-4zM2135,394h4v4h-4zM2139,412h4v4h-4zM2142,429h4v4h-4zM2146,447h4v4h-4zM2150,464h4v4h-4zM2154,484h4v4h-4zM2157,502h4v4h-4zM2161,519h4v4h-4zM2164,535h4v4h-4zM2167,554h4v4h-4zM2171,573h4v4h-4zM2174,590h4v4h-4zM2177,608h4v4h-4zM2186,612h4v4h-4zM2204,612h4v4h-4zM2222,612h4v4h-4zM2240,612h4v4h-4zM2258,612h4v4h-4zM2277,612h4v4h-4zM2295,612h4v4h-4zM239,612h4v4h-4zM258,612h4v4h-4zM276,612h4v4h-4zM294,612h4v4h-4zM312,612h4v4h-4zM330,612h4v4h-4zM348,612h4v4h-4zM366,612h4v4h-4zM384,612h4v4h-4zM402,612h4v4h-4zM420,612h4v4h-4zM439,612h4v4h-4zM457,612h4v4h-4zM475,612h4v4h-4zM493,612h4v4h-4zM511,612h4v4h-4zM529,612h4v4h-4zM547,612h4v4h-4zM565,612h4v4h-4zM583,612h4v4h-4zM602,612h4v4h-4zM620,612h4v4h-4zM638,612h4v4h-4zM656,612h4v4h-4zM674,612h4v4h-4zM692,612h4v4h-4zM710,612h4v4h-4zM728,612h4v4h-4zM746,612h4v4h-4zM764,612h4v4h-4zM783,612h4v4h-4zM801,612h4v4h-4zM819,612h4v4h-4zM837,612h4v4h-4zM855,612h4v4h-4zM873,612h4v4h-4zM891,612h4v4h-4zM909,612h4v4h-4zM927,612h4v4h-4zM937,597h4v4h-4zM942,580h4v4h-4zM947,563h4v4h-4zM952,545h4v4h-4zM957,528h4v4h-4zM961,510h4v4h-4zM966,493h4v4h-4zM970,475h4v4h-4zM975,456h4v4h-4zM979,440h4v4h-4zM983,422h4v4h-4zM988,404h4v4h-4zM992,388h4v4h-4zM997,369h4v4h-4zM1001,353h4v4h-4zM1006,335h4v4h-4zM1012,317h4v4h-4zM1017,301h4v4h-4zM1023,284h4v4h-4zM1030,267h4v4h-4zM1039,251h4v4h-4zM1051,238h4v4h-4zM1068,231h4v4h-4zM1082,240h4v4h-4zM1096,252h4v4h-4zM1110,264h4v4h-4zM1124,275h4v4h-4zM1140,284h4v4h-4zM1157,290h4v4h-4zM1175,294h4v4h-4zM1192,296h4v4h-4zM1210,296h4v4h-4zM1228,293h4v4h-4zM1245,286h4v4h-4zM1260,277h4v4h-4zM1275,266h4v4h-4zM1288,253h4v4h-4zM1298,238h4v4h-4zM1309,223h4v4h-4zM1322,211h4v4h-4zM1338,204h4v4h-4zM1354,212h4v4h-4zM1365,225h4v4h-4zM1367,243h4v4h-4zM1373,260h4v4h-4zM1379,277h4v4h-4zM1385,294h4v4h-4zM1390,311h4v4h-4zM1396,330h4v4h-4zM1400,346h4v4h-4zM1404,365h4v4h-4zM1407,382h4v4h-4zM1411,399h4v4h-4zM1415,417h4v4h-4zM1419,435h4v4h-4zM1423,452h4v4h-4zM1427,472h4v4h-4zM1430,490h4v4h-4zM1434,508h4v4h-4zM1437,524h4v4h-4zM1440,543h4v4h-4zM1444,561h4v4h-4zM1447,577h4v4h-4zM1451,595h4v4h-4zM1455,612h4v4h-4zM1469,612h4v4h-4zM1487,612h4v4h-4zM1505,612h4v4h-4zM1523,612h4v4h-4zM1541,612h4v4h-4zM1559,612h4v4h-4zM1577,612h4v4h-4zM1595,612h4v4h-4zM1613,612h4v4h-4zM1632,612h4v4h-4zM1650,612h4v4h-4zM1668,612h4v4h-4zM1686,612h4v4h-4zM1704,612h4v4h-4zM1722,612h4v4h-4zM1740,612h4v4h-4zM1758,612h4v4h-4zM1776,612h4v4h-4zM1794,612h4v4h-4zM1813,612h4v4h-4zM1831,612h4v4h-4zM1849,612h4v4h-4zM1867,612h4v4h-4zM1885,612h4v4h-4zM1903,612h4v4h-4zM1921,612h4v4h-4zM1939,612h4v4h-4zM1957,612h4v4h-4zM1975,612h4v4h-4zM1994,612h4v4h-4zM2012,612h4v4h-4zM2030,612h4v4h-4zM2045,610h4v4h-4zM2054,594h4v4h-4zM2058,576h4v4h-4zM2062,558h4v4h-4zM2065,541h4v4h-4zM2069,523h4v4h-4zM2073,506h4v4h-4zM2078,486h4v4h-4zM2081,470h4v4h-4zM2085,451h4v4h-4zM2089,434h4v4h-4zM2092,417h4v4h-4zM2096,398h4v4h-4zM2100,382h4v4h-4zM2105,363h4v4h-4zM2110,346h4v4h-4zM2115,328h4v4h-4zM2120,311h4v4h-4zM2125,294h4v4h-4zM2131,277h4v4h-4zM2138,260h4v4h-4zM2147,245h4v4h-4zM2160,234h4v4h-4zM2178,234h4v4h-4zM2191,245h4v4h-4zM2204,259h4v4h-4zM2216,272h4v4h-4zM2231,282h4v4h-4zM2248,290h4v4h-4zM2265,294h4v4h-4zM2283,297h4v4h-4z" fill="#9900DD" shape-rendering="crispEdges"/>
<text transform="translate(1101.5,172.2) scale(1.0,1)" font-size="82" text-anchor="start" stroke="#000" stroke-width="0.3">Reference current</text>
<text transform="translate(1329,469.4) scale(1.0,1)" font-size="82" text-anchor="start" stroke="#000" stroke-width="0.3">Actual current</text>
<polygon points="1246.2,173.6 1220.9,263.8 1206.7,259.9 1222.9,289.3 1252,272.5 1237.8,268.5 1263,178.4" fill="#FF2020" stroke="#3c3c3c" stroke-width="1.8"/>
<polygon points="1581.1,419.7 1607.2,328 1621.4,332 1605.3,302.5 1576.1,319.2 1590.3,323.2 1564.3,414.9" fill="#FF2020" stroke="#3c3c3c" stroke-width="1.8"/>
<path d="M2152,431c6,-2 10,10 9,24c-1,12 -6,18 -15,17c-8,-1 -11,-8 -9,-16c2,-10 9,-22 15,-25z" fill="none" stroke="#444" stroke-width="3.2"/>
<text transform="translate(210,111) scale(0.965,1)" font-size="82" text-anchor="end" stroke="#000" stroke-width="0.3">4</text>
<text transform="translate(210,248.3) scale(0.965,1)" font-size="82" text-anchor="end" stroke="#000" stroke-width="0.3">3</text>
<text transform="translate(210,385.5) scale(0.965,1)" font-size="82" text-anchor="end" stroke="#000" stroke-width="0.3">2</text>
<text transform="translate(210,522.8) scale(0.965,1)" font-size="82" text-anchor="end" stroke="#000" stroke-width="0.3">1</text>
<text transform="translate(210,660) scale(0.965,1)" font-size="82" text-anchor="end" stroke="#000" stroke-width="0.3">0</text>
<text transform="translate(155,800) scale(0.965,1)" font-size="82" stroke="#000" stroke-width="1.1">-</text><text transform="translate(183.5,800) scale(0.965,1)" font-size="82" stroke="#000" stroke-width="0.3">1</text>
<text transform="translate(258.3,837) scale(0.965,1)" font-size="82" text-anchor="middle" stroke="#000" stroke-width="0.3">0</text>
<text transform="translate(677.3,837) scale(0.965,1)" font-size="82" text-anchor="middle" stroke="#000" stroke-width="0.3">0.05</text>
<text transform="translate(1089.3,837) scale(0.965,1)" font-size="82" text-anchor="middle" stroke="#000" stroke-width="0.3">0.1</text>
<text transform="translate(1501.4,837) scale(0.965,1)" font-size="82" text-anchor="middle" stroke="#000" stroke-width="0.3">0.15</text>
<text transform="translate(1913.4,837) scale(0.965,1)" font-size="82" text-anchor="middle" stroke="#000" stroke-width="0.3">0.2</text>
<text transform="translate(2325.4,837) scale(0.965,1)" font-size="82" text-anchor="middle" stroke="#000" stroke-width="0.3">0.25</text>
<text transform="translate(1189,896.8) scale(1.005,1)" font-size="82" text-anchor="start" stroke="#000" stroke-width="0.3">Time (s)</text>
<text transform="translate(148,768.5) rotate(-90) scale(1.02,1)" font-size="82" text-anchor="start" stroke="#000" stroke-width="0.3">Phase current(A)</text>
<text x="1246" y="1023" font-size="82" text-anchor="middle" stroke="#000" stroke-width="0.5">(<tspan font-weight="bold">a</tspan>)</text>
</g>
<g id="plot-b">
<rect x="255" y="1108" width="2073" height="737.5" fill="none" stroke="#000" stroke-width="2" shape-rendering="crispEdges"/>
<path d="M668.2,1845.5v-22M668.2,1108v22M1083,1845.5v-22M1083,1108v22M1497.8,1845.5v-22M1497.8,1108v22M1912.5,1845.5v-22M1912.5,1108v22" stroke="#000" stroke-width="2" fill="none" shape-rendering="crispEdges"/>
<path d="M255,1255.5h22M2328,1255.5h-22M255,1403h22M2328,1403h-22M255,1550.5h22M2328,1550.5h-22M255,1698h22M2328,1698h-22" stroke="#000" stroke-width="3" fill="none" shape-rendering="crispEdges"/>
<path d="M256.5,1800V1845M257.5,1805V1845M258.5,1640V1845M259.5,1480V1845M260.5,1430V1600M261.5,1400V1560M262.5,1380V1540M263.5,1360V1520M265.5,1347V1504M266.5,1345V1519M267.5,1393V1486M268.5,1364V1513M269.5,1357V1506M270.5,1374V1520M271.5,1387V1492M272.5,1369V1511M273.5,1361V1520M274.5,1379V1512M275.5,1391V1485M276.5,1368V1510M277.5,1359V1518M278.5,1361V1518M279.5,1370V1511M280.5,1370V1482M281.5,1389V1505M282.5,1340V1520M283.5,1340V1508M284.5,1351V1490M285.5,1377V1508M286.5,1348V1518M287.5,1342V1517M288.5,1357V1505M289.5,1379V1488M290.5,1342V1516M291.5,1342V1524M292.5,1350V1496M293.5,1381V1511M294.5,1357V1505M295.5,1344V1519M296.5,1360V1521M297.5,1383V1488M298.5,1355V1508M299.5,1339V1512M300.5,1340V1522M301.5,1372V1505M302.5,1364V1513M303.5,1349V1489M304.5,1407V1513M305.5,1367V1528M306.5,1356V1527M307.5,1358V1512M308.5,1410V1489M309.5,1354V1511M310.5,1340V1526M311.5,1341V1526M312.5,1348V1516M313.5,1370V1486M314.5,1364V1526M315.5,1349V1525M316.5,1348V1516M317.5,1360V1514M318.5,1381V1490M319.5,1353V1522M320.5,1341V1521M321.5,1340V1529M322.5,1350V1529M323.5,1356V1523M324.5,1395V1476M325.5,1346V1525M326.5,1347V1524M327.5,1363V1516M328.5,1387V1493M329.5,1359V1518M330.5,1347V1526M331.5,1346V1525M332.5,1356V1485M333.5,1377V1514M334.5,1354V1526M335.5,1344V1524M336.5,1345V1517M337.5,1354V1516M338.5,1360V1485M339.5,1407V1519M340.5,1360V1526M341.5,1348V1517M342.5,1366V1519M343.5,1385V1459M344.5,1358V1526M345.5,1346V1519M346.5,1347V1515M347.5,1360V1491M348.5,1382V1527M349.5,1367V1528M350.5,1363V1458M351.5,1354V1523M352.5,1355V1522M353.5,1372V1531M354.5,1363V1532M355.5,1402V1518M356.5,1349V1481M357.5,1349V1523M358.5,1380V1520M359.5,1375V1533M360.5,1361V1533M361.5,1378V1519M362.5,1392V1463M363.5,1360V1503M364.5,1344V1518M365.5,1356V1517M366.5,1377V1508M367.5,1355V1510M368.5,1354V1482M369.5,1362V1518M370.5,1367V1518M371.5,1384V1501M372.5,1359V1481M373.5,1364V1532M374.5,1348V1532M375.5,1350V1494M376.5,1360V1530M377.5,1365V1531M378.5,1384V1517M379.5,1361V1520M380.5,1351V1502M381.5,1350V1532M382.5,1358V1505M383.5,1387V1521M384.5,1373V1538M385.5,1359V1538M386.5,1368V1528M387.5,1387V1512M388.5,1357V1535M389.5,1349V1537M390.5,1348V1525M391.5,1377V1472M392.5,1360V1531M393.5,1346V1544M394.5,1361V1544M395.5,1394V1531M396.5,1344V1484M397.5,1343V1532M398.5,1357V1536M399.5,1358V1546M400.5,1406V1533M401.5,1363V1490M402.5,1367V1522M403.5,1354V1536M404.5,1369V1520M405.5,1361V1496M406.5,1417V1537M407.5,1374V1545M408.5,1368V1513M409.5,1368V1510M410.5,1381V1520M411.5,1303V1464M412.5,1288V1472M413.5,1285V1471M414.5,1291V1463M415.5,1288V1443M416.5,1303V1462M417.5,1261V1461M418.5,1258V1472M419.5,1282V1470M420.5,1265V1458M421.5,1253V1444M422.5,1252V1470M423.5,1279V1469M424.5,1254V1446M425.5,1242V1455M426.5,1241V1427M427.5,1250V1461M428.5,1263V1467M429.5,1249V1466M430.5,1246V1457M431.5,1240V1440M432.5,1241V1461M433.5,1253V1447M434.5,1266V1434M435.5,1245V1440M436.5,1237V1443M437.5,1250V1447M438.5,1260V1448M439.5,1259V1421M440.5,1252V1445M441.5,1261V1448M442.5,1260V1455M443.5,1282V1448M444.5,1255V1425M445.5,1247V1452M446.5,1258V1453M447.5,1271V1460M448.5,1246V1461M449.5,1236V1430M450.5,1247V1459M451.5,1276V1460M452.5,1251V1433M453.5,1239V1451M454.5,1238V1445M455.5,1267V1458M456.5,1242V1458M457.5,1232V1451M458.5,1243V1451M459.5,1244V1432M460.5,1281V1444M461.5,1236V1443M462.5,1236V1436M463.5,1244V1397M464.5,1267V1449M465.5,1232V1432M466.5,1233V1435M467.5,1235V1437M468.5,1237V1439M469.5,1238V1441M470.5,1240V1443M471.5,1241V1445M472.5,1243V1447M473.5,1244V1448M474.5,1245V1449M475.5,1247V1451M476.5,1248V1452M477.5,1250V1453M478.5,1251V1454M479.5,1253V1455M480.5,1254V1456M481.5,1255V1456M482.5,1256V1457M483.5,1256V1457M484.5,1256V1457M485.5,1255V1456M486.5,1254V1455M487.5,1253V1454M488.5,1251V1453M489.5,1250V1451M490.5,1248V1450M491.5,1246V1448M492.5,1244V1446M493.5,1242V1444M494.5,1240V1441M495.5,1237V1438M496.5,1234V1435M497.5,1231V1431M498.5,1242V1420M499.5,1225V1414M500.5,1226V1375M501.5,1245V1428M502.5,1215V1427M503.5,1211V1440M504.5,1224V1441M505.5,1214V1417M506.5,1240V1436M507.5,1202V1443M508.5,1191V1450M509.5,1192V1449M510.5,1206V1444M511.5,1221V1424M512.5,1207V1447M513.5,1195V1446M514.5,1232V1434M515.5,1205V1424M516.5,1196V1445M517.5,1204V1454M518.5,1224V1454M519.5,1205V1442M520.5,1195V1443M521.5,1195V1409M522.5,1207V1450M523.5,1245V1445M524.5,1207V1457M525.5,1207V1443M526.5,1195V1447M527.5,1227V1435M528.5,1198V1440M529.5,1199V1442M530.5,1233V1451M531.5,1198V1451M532.5,1198V1447M533.5,1212V1397M534.5,1207V1449M535.5,1224V1450M536.5,1213V1440M537.5,1210V1427M538.5,1204V1451M539.5,1219V1445M540.5,1229V1457M541.5,1217V1458M542.5,1217V1445M543.5,1209V1452M544.5,1209V1417M545.5,1225V1433M546.5,1237V1443M547.5,1210V1432M548.5,1198V1431M549.5,1199V1414M550.5,1213V1447M551.5,1225V1454M552.5,1206V1454M553.5,1196V1428M554.5,1196V1454M555.5,1221V1454M556.5,1206V1444M557.5,1192V1427M558.5,1193V1455M559.5,1200V1455M560.5,1201V1444M561.5,1218V1410M562.5,1204V1447M563.5,1197V1459M564.5,1198V1458M565.5,1204V1448M566.5,1206V1435M567.5,1233V1458M568.5,1203V1421M569.5,1206V1440M570.5,1196V1446M571.5,1209V1446M572.5,1225V1433M573.5,1215V1421M574.5,1202V1445M575.5,1239V1446M576.5,1203V1419M577.5,1195V1449M578.5,1194V1457M579.5,1209V1458M580.5,1238V1444M581.5,1202V1410M582.5,1212V1454M583.5,1215V1452M584.5,1236V1460M585.5,1215V1460M586.5,1217V1451M587.5,1204V1434M588.5,1205V1453M589.5,1218V1453M590.5,1219V1422M591.5,1243V1448M592.5,1206V1456M593.5,1208V1448M594.5,1198V1450M595.5,1199V1425M596.5,1235V1449M597.5,1197V1450M598.5,1209V1423M599.5,1233V1446M600.5,1211V1436M601.5,1201V1418M602.5,1212V1447M603.5,1230V1457M604.5,1212V1438M605.5,1216V1439M606.5,1225V1438M607.5,1219V1430M608.5,1217V1431M609.5,1215V1433M610.5,1215V1430M611.5,1219V1422M612.5,1227V1426M613.5,1220V1426M614.5,1218V1422M615.5,1221V1416M616.5,1222V1411M617.5,1229V1402M618.5,1219V1407M619.5,1221V1404M620.5,1229V1398M621.5,1223V1391M622.5,1223V1393M623.5,1229V1395M624.5,1233V1394M625.5,1226V1390M626.5,1222V1384M627.5,1222V1389M628.5,1233V1388M629.5,1222V1390M630.5,1218V1389M631.5,1219V1385M632.5,1221V1385M633.5,1231V1379M634.5,1227V1385M635.5,1224V1386M636.5,1225V1386M637.5,1229V1375M638.5,1236V1381M639.5,1226V1383M640.5,1226V1371M641.5,1229V1378M642.5,1235V1375M643.5,1233V1374M644.5,1233V1370M645.5,1231V1363M646.5,1234V1355M647.5,1242V1358M648.5,1227V1354M649.5,1225V1344M650.5,1230V1346M651.5,1237V1347M652.5,1239V1337M653.5,1241V1341M654.5,1240V1342M655.5,1241V1340M656.5,1247V1336M657.5,1264V1329M658.5,1246V1330M659.5,1248V1329M660.5,1244V1327M661.5,1299V1324M662.5,1296V1323M663.5,1297V1326M664.5,1306V1326M665.5,1301V1325M666.5,1300V1324M667.5,1296V1319M668.5,1297V1324M669.5,1298V1325M670.5,1301V1325M671.5,1293V1322M672.5,1291V1318M673.5,1290V1321M674.5,1291V1321M675.5,1292V1322M676.5,1294V1322M677.5,1289V1318M678.5,1288V1311M679.5,1290V1316M680.5,1289V1315M681.5,1293V1317M682.5,1283V1317M683.5,1282V1314M684.5,1283V1308M685.5,1282V1316M686.5,1287V1317M687.5,1279V1317M688.5,1279V1314M689.5,1276V1308M690.5,1276V1310M691.5,1279V1312M692.5,1282V1311M693.5,1278V1309M694.5,1275V1303M695.5,1275V1309M696.5,1281V1308M697.5,1272V1312M698.5,1271V1312M699.5,1270V1311M700.5,1269V1310M701.5,1268V1309M702.5,1268V1309M703.5,1267V1308M704.5,1267V1308M705.5,1266V1308M706.5,1266V1307M707.5,1266V1307M708.5,1266V1307M709.5,1265V1307M710.5,1265V1307M711.5,1265V1307M712.5,1265V1307M713.5,1265V1307M714.5,1265V1307M715.5,1265V1307M716.5,1265V1307M717.5,1265V1307M718.5,1266V1307M719.5,1266V1308M720.5,1267V1309M721.5,1267V1310M722.5,1268V1311M723.5,1269V1312M724.5,1270V1313M725.5,1270V1313M726.5,1272V1315M727.5,1273V1316M728.5,1274V1317M729.5,1276V1319M730.5,1277V1320M731.5,1279V1322M732.5,1280V1324M733.5,1281V1325M734.5,1282V1327M735.5,1283V1329M736.5,1284V1332M737.5,1285V1334M738.5,1289V1327M739.5,1282V1325M740.5,1291V1334M741.5,1304V1335M742.5,1285V1327M743.5,1277V1313M744.5,1278V1327M745.5,1285V1329M746.5,1294V1336M747.5,1295V1327M748.5,1294V1317M749.5,1288V1332M750.5,1289V1331M751.5,1296V1338M752.5,1296V1338M753.5,1306V1335M754.5,1293V1321M755.5,1291V1321M756.5,1284V1321M757.5,1284V1327M758.5,1287V1328M759.5,1291V1322M760.5,1296V1299M761.5,1283V1338M762.5,1276V1343M763.5,1276V1344M764.5,1293V1339M765.5,1278V1340M766.5,1279V1324M767.5,1300V1332M768.5,1288V1341M769.5,1280V1341M770.5,1281V1334M771.5,1288V1319M772.5,1287V1336M773.5,1297V1343M774.5,1279V1344M775.5,1280V1334M776.5,1275V1326M777.5,1274V1338M778.5,1291V1343M779.5,1280V1336M780.5,1279V1334M781.5,1272V1318M782.5,1279V1329M783.5,1313V1336M784.5,1272V1326M785.5,1281V1330M786.5,1277V1316M787.5,1292V1341M788.5,1280V1335M789.5,1280V1326M790.5,1275V1344M791.5,1280V1350M792.5,1316V1349M793.5,1278V1328M794.5,1278V1343M795.5,1272V1333M796.5,1278V1327M797.5,1295V1338M798.5,1288V1338M799.5,1281V1345M800.5,1289V1346M801.5,1286V1316M802.5,1300V1334M803.5,1272V1343M804.5,1272V1326M805.5,1277V1342M806.5,1298V1350M807.5,1287V1352M808.5,1279V1347M809.5,1288V1313M810.5,1288V1339M811.5,1302V1342M812.5,1280V1348M813.5,1274V1348M814.5,1294V1340M815.5,1279V1342M816.5,1278V1333M817.5,1273V1347M818.5,1282V1356M819.5,1293V1357M820.5,1290V1348M821.5,1290V1339M822.5,1285V1354M823.5,1286V1364M824.5,1290V1364M825.5,1315V1344M826.5,1285V1363M827.5,1280V1359M828.5,1280V1347M829.5,1289V1362M830.5,1299V1367M831.5,1297V1369M832.5,1288V1352M833.5,1298V1365M834.5,1293V1363M835.5,1310V1371M836.5,1289V1372M837.5,1282V1355M838.5,1282V1362M839.5,1290V1371M840.5,1304V1373M841.5,1285V1365M842.5,1280V1355M843.5,1277V1368M844.5,1277V1374M845.5,1299V1375M846.5,1279V1370M847.5,1279V1356M848.5,1285V1364M849.5,1288V1371M850.5,1301V1371M851.5,1290V1362M852.5,1282V1344M853.5,1281V1372M854.5,1301V1381M855.5,1284V1364M856.5,1280V1376M857.5,1280V1381M858.5,1297V1383M859.5,1299V1375M860.5,1292V1356M861.5,1292V1388M862.5,1311V1395M863.5,1284V1395M864.5,1294V1392M865.5,1303V1381M866.5,1291V1392M867.5,1289V1398M868.5,1283V1400M869.5,1288V1392M870.5,1305V1380M871.5,1291V1387M872.5,1296V1397M873.5,1287V1397M874.5,1288V1392M875.5,1296V1365M876.5,1293V1400M877.5,1306V1401M878.5,1304V1409M879.5,1303V1410M880.5,1298V1404M881.5,1299V1393M882.5,1309V1411M883.5,1320V1403M884.5,1299V1401M885.5,1292V1395M886.5,1301V1411M887.5,1312V1402M888.5,1300V1406M889.5,1323V1434M890.5,1322V1433M891.5,1320V1433M892.5,1319V1432M893.5,1318V1431M894.5,1317V1431M895.5,1316V1430M896.5,1315V1430M897.5,1314V1430M898.5,1314V1429M899.5,1313V1429M900.5,1313V1429M901.5,1312V1429M902.5,1312V1429M903.5,1312V1429M904.5,1312V1429M905.5,1311V1428M906.5,1311V1428M907.5,1311V1428M908.5,1311V1428M909.5,1311V1429M910.5,1311V1430M911.5,1312V1431M912.5,1313V1433M913.5,1313V1435M914.5,1314V1437M915.5,1315V1439M916.5,1315V1441M917.5,1316V1443M918.5,1317V1445M919.5,1318V1447M920.5,1319V1449M921.5,1320V1451M922.5,1322V1453M923.5,1323V1455M924.5,1325V1458M925.5,1326V1460M926.5,1328V1462M927.5,1330V1464M928.5,1332V1467M929.5,1334V1469M930.5,1336V1471M931.5,1338V1473M932.5,1341V1475M933.5,1344V1477M934.5,1347V1480M935.5,1349V1482M936.5,1353V1486M937.5,1356V1491M938.5,1360V1496M939.5,1363V1502M940.5,1367V1508M941.5,1371V1513M942.5,1374V1518M943.5,1378V1523M944.5,1382V1529M945.5,1339V1493M946.5,1324V1490M947.5,1326V1475M948.5,1314V1479M949.5,1330V1455M950.5,1292V1461M951.5,1294V1457M952.5,1283V1426M953.5,1280V1433M954.5,1291V1429M955.5,1332V1438M956.5,1283V1436M957.5,1271V1423M958.5,1277V1404M959.5,1264V1419M960.5,1304V1422M961.5,1256V1427M962.5,1235V1425M963.5,1263V1402M964.5,1248V1417M965.5,1235V1427M966.5,1249V1427M967.5,1244V1398M968.5,1291V1424M969.5,1233V1429M970.5,1220V1418M971.5,1217V1422M972.5,1230V1403M973.5,1228V1422M974.5,1244V1417M975.5,1222V1428M976.5,1212V1428M977.5,1212V1416M978.5,1225V1377M979.5,1218V1428M980.5,1240V1428M981.5,1227V1405M982.5,1226V1409M983.5,1250V1412M984.5,1227V1420M985.5,1214V1421M986.5,1214V1410M987.5,1220V1414M988.5,1220V1403M989.5,1257V1411M990.5,1213V1417M991.5,1254V1418M992.5,1224V1411M993.5,1225V1409M994.5,1230V1372M995.5,1236V1434M996.5,1262V1434M997.5,1214V1429M998.5,1215V1397M999.5,1238V1439M1000.5,1216V1432M1001.5,1217V1402M1002.5,1210V1429M1003.5,1211V1435M1004.5,1217V1424M1005.5,1223V1429M1006.5,1248V1410M1007.5,1222V1433M1008.5,1214V1444M1009.5,1228V1444M1010.5,1247V1433M1011.5,1219V1422M1012.5,1208V1451M1013.5,1218V1451M1014.5,1241V1440M1015.5,1223V1426M1016.5,1222V1451M1017.5,1237V1426M1018.5,1254V1438M1019.5,1215V1450M1020.5,1208V1450M1021.5,1208V1426M1022.5,1222V1456M1023.5,1233V1457M1024.5,1217V1434M1025.5,1206V1456M1026.5,1207V1455M1027.5,1218V1448M1028.5,1231V1450M1029.5,1223V1427M1030.5,1223V1439M1031.5,1254V1446M1032.5,1213V1445M1033.5,1214V1439M1034.5,1226V1407M1035.5,1244V1443M1036.5,1216V1449M1037.5,1209V1448M1038.5,1210V1427M1039.5,1218V1458M1040.5,1218V1457M1041.5,1236V1448M1042.5,1223V1430M1043.5,1216V1449M1044.5,1230V1458M1045.5,1248V1458M1046.5,1221V1445M1047.5,1216V1434M1048.5,1224V1450M1049.5,1247V1443M1050.5,1213V1454M1051.5,1214V1454M1052.5,1227V1441M1053.5,1245V1442M1054.5,1222V1426M1055.5,1221V1440M1056.5,1215V1448M1057.5,1228V1439M1058.5,1243V1419M1059.5,1234V1422M1060.5,1229V1420M1061.5,1223V1425M1062.5,1223V1401M1063.5,1254V1425M1064.5,1223V1432M1065.5,1215V1421M1066.5,1216V1418M1067.5,1221V1397M1068.5,1249V1414M1069.5,1228V1419M1070.5,1221V1416M1071.5,1227V1403M1072.5,1246V1387M1073.5,1227V1406M1074.5,1218V1410M1075.5,1219V1400M1076.5,1227V1360M1077.5,1227V1401M1078.5,1268V1398M1079.5,1223V1406M1080.5,1227V1403M1081.5,1216V1388M1082.5,1247V1371M1083.5,1229V1384M1084.5,1216V1386M1085.5,1217V1383M1086.5,1243V1372M1087.5,1230V1352M1088.5,1230V1369M1089.5,1237V1365M1090.5,1264V1370M1091.5,1237V1336M1092.5,1234V1361M1093.5,1225V1350M1094.5,1226V1328M1095.5,1237V1347M1096.5,1257V1340M1097.5,1237V1321M1098.5,1226V1301M1099.5,1230V1316M1100.5,1249V1303M1101.5,1297V1310M1102.5,1295V1308M1103.5,1292V1307M1104.5,1290V1305M1105.5,1288V1304M1106.5,1286V1302M1107.5,1284V1301M1108.5,1282V1299M1109.5,1280V1297M1110.5,1278V1295M1111.5,1276V1293M1112.5,1275V1291M1113.5,1273V1289M1114.5,1273V1288M1115.5,1273V1288M1116.5,1273V1289M1117.5,1274V1290M1118.5,1275V1292M1119.5,1277V1293M1120.5,1278V1295M1121.5,1279V1297M1122.5,1281V1299M1123.5,1282V1300M1124.5,1283V1302M1125.5,1272V1304M1126.5,1271V1296M1127.5,1267V1303M1128.5,1266V1300M1129.5,1270V1287M1130.5,1274V1300M1131.5,1266V1302M1132.5,1263V1291M1133.5,1273V1302M1134.5,1264V1302M1135.5,1263V1300M1136.5,1260V1295M1137.5,1261V1299M1138.5,1269V1297M1139.5,1268V1301M1140.5,1263V1299M1141.5,1263V1297M1142.5,1265V1293M1143.5,1270V1297M1144.5,1257V1297M1145.5,1256V1300M1146.5,1252V1300M1147.5,1252V1291M1148.5,1257V1298M1149.5,1256V1299M1150.5,1262V1301M1151.5,1253V1301M1152.5,1253V1299M1153.5,1249V1292M1154.5,1249V1297M1155.5,1253V1298M1156.5,1250V1299M1157.5,1258V1299M1158.5,1251V1291M1159.5,1248V1297M1160.5,1248V1297M1161.5,1251V1294M1162.5,1266V1285M1163.5,1249V1300M1164.5,1248V1300M1165.5,1244V1298M1166.5,1244V1296M1167.5,1256V1303M1168.5,1255V1303M1169.5,1255V1302M1170.5,1255V1302M1171.5,1254V1302M1172.5,1254V1302M1173.5,1254V1302M1174.5,1254V1302M1175.5,1254V1302M1176.5,1254V1302M1177.5,1254V1302M1178.5,1254V1302M1179.5,1254V1302M1180.5,1254V1303M1181.5,1255V1304M1182.5,1255V1306M1183.5,1256V1307M1184.5,1257V1309M1185.5,1258V1312M1186.5,1259V1314M1187.5,1260V1316M1188.5,1261V1319M1189.5,1262V1321M1190.5,1262V1323M1191.5,1263V1325M1192.5,1264V1327M1193.5,1265V1330M1194.5,1266V1332M1195.5,1268V1335M1196.5,1269V1337M1197.5,1270V1340M1198.5,1271V1330M1199.5,1274V1338M1200.5,1267V1330M1201.5,1267V1316M1202.5,1289V1336M1203.5,1278V1342M1204.5,1271V1343M1205.5,1270V1325M1206.5,1289V1344M1207.5,1272V1343M1208.5,1268V1334M1209.5,1267V1307M1210.5,1276V1336M1211.5,1276V1344M1212.5,1288V1345M1213.5,1284V1338M1214.5,1277V1324M1215.5,1277V1339M1216.5,1288V1342M1217.5,1317V1343M1218.5,1273V1337M1219.5,1279V1325M1220.5,1281V1337M1221.5,1296V1346M1222.5,1279V1346M1223.5,1271V1338M1224.5,1271V1337M1225.5,1292V1331M1226.5,1272V1351M1227.5,1273V1352M1228.5,1294V1345M1229.5,1286V1335M1230.5,1283V1348M1231.5,1282V1349M1232.5,1301V1340M1233.5,1280V1342M1234.5,1272V1314M1235.5,1273V1354M1236.5,1296V1349M1237.5,1282V1334M1238.5,1280V1348M1239.5,1274V1358M1240.5,1274V1359M1241.5,1297V1350M1242.5,1282V1354M1243.5,1302V1338M1244.5,1291V1361M1245.5,1287V1351M1246.5,1292V1343M1247.5,1296V1354M1248.5,1321V1358M1249.5,1277V1365M1250.5,1277V1366M1251.5,1287V1362M1252.5,1295V1350M1253.5,1294V1365M1254.5,1287V1374M1255.5,1287V1371M1256.5,1297V1354M1257.5,1306V1373M1258.5,1282V1377M1259.5,1283V1379M1260.5,1292V1374M1261.5,1300V1363M1262.5,1290V1362M1263.5,1298V1371M1264.5,1326V1372M1265.5,1289V1364M1266.5,1282V1351M1267.5,1282V1385M1268.5,1289V1386M1269.5,1302V1370M1270.5,1294V1377M1271.5,1300V1386M1272.5,1303V1387M1273.5,1314V1383M1274.5,1298V1383M1275.5,1299V1359M1276.5,1308V1399M1277.5,1323V1400M1278.5,1296V1379M1279.5,1290V1390M1280.5,1290V1392M1281.5,1299V1388M1282.5,1310V1376M1283.5,1303V1395M1284.5,1296V1398M1285.5,1297V1407M1286.5,1305V1408M1287.5,1316V1403M1288.5,1299V1392M1289.5,1294V1405M1290.5,1302V1413M1291.5,1312V1415M1292.5,1303V1409M1293.5,1298V1397M1294.5,1298V1417M1295.5,1304V1420M1296.5,1316V1379M1297.5,1308V1415M1298.5,1312V1423M1299.5,1303V1419M1300.5,1310V1402M1301.5,1325V1428M1302.5,1312V1423M1303.5,1305V1420M1304.5,1312V1414M1305.5,1332V1449M1306.5,1330V1448M1307.5,1328V1447M1308.5,1326V1445M1309.5,1324V1444M1310.5,1322V1443M1311.5,1321V1442M1312.5,1320V1442M1313.5,1318V1441M1314.5,1318V1441M1315.5,1317V1441M1316.5,1316V1441M1317.5,1315V1440M1318.5,1314V1440M1319.5,1313V1440M1320.5,1313V1440M1321.5,1313V1440M1322.5,1313V1440M1323.5,1313V1440M1324.5,1313V1441M1325.5,1314V1442M1326.5,1315V1443M1327.5,1316V1445M1328.5,1317V1446M1329.5,1318V1447M1330.5,1318V1449M1331.5,1320V1450M1332.5,1321V1451M1333.5,1322V1453M1334.5,1324V1455M1335.5,1326V1457M1336.5,1328V1460M1337.5,1330V1463M1338.5,1333V1466M1339.5,1336V1470M1340.5,1339V1474M1341.5,1342V1479M1342.5,1270V1413M1343.5,1265V1418M1344.5,1252V1413M1345.5,1247V1397M1346.5,1255V1378M1347.5,1267V1396M1348.5,1259V1404M1349.5,1244V1377M1350.5,1243V1396M1351.5,1249V1407M1352.5,1263V1400M1353.5,1254V1379M1354.5,1241V1383M1355.5,1240V1386M1356.5,1252V1395M1357.5,1291V1396M1358.5,1223V1371M1359.5,1251V1405M1360.5,1229V1402M1361.5,1222V1414M1362.5,1221V1415M1363.5,1244V1407M1364.5,1226V1389M1365.5,1220V1419M1366.5,1221V1390M1367.5,1229V1417M1368.5,1234V1425M1369.5,1245V1421M1370.5,1229V1384M1371.5,1224V1424M1372.5,1224V1416M1373.5,1225V1429M1374.5,1228V1436M1375.5,1230V1429M1376.5,1232V1418M1377.5,1234V1434M1378.5,1237V1442M1379.5,1239V1442M1380.5,1242V1425M1381.5,1244V1435M1382.5,1246V1443M1383.5,1248V1444M1384.5,1251V1436M1385.5,1253V1420M1386.5,1256V1438M1387.5,1258V1449M1388.5,1260V1449M1389.5,1262V1427M1390.5,1265V1431M1391.5,1226V1387M1392.5,1218V1400M1393.5,1230V1406M1394.5,1225V1401M1395.5,1251V1373M1396.5,1226V1413M1397.5,1217V1428M1398.5,1218V1424M1399.5,1224V1414M1400.5,1231V1431M1401.5,1239V1434M1402.5,1231V1428M1403.5,1223V1399M1404.5,1222V1438M1405.5,1230V1451M1406.5,1247V1452M1407.5,1224V1447M1408.5,1223V1448M1409.5,1231V1431M1410.5,1252V1439M1411.5,1227V1447M1412.5,1217V1449M1413.5,1217V1441M1414.5,1229V1439M1415.5,1229V1408M1416.5,1241V1449M1417.5,1230V1453M1418.5,1224V1458M1419.5,1222V1451M1420.5,1229V1448M1421.5,1249V1436M1422.5,1226V1447M1423.5,1213V1454M1424.5,1214V1448M1425.5,1222V1433M1426.5,1257V1449M1427.5,1216V1442M1428.5,1215V1427M1429.5,1224V1443M1430.5,1222V1443M1431.5,1243V1450M1432.5,1230V1449M1433.5,1233V1443M1434.5,1222V1396M1435.5,1222V1451M1436.5,1233V1451M1437.5,1247V1443M1438.5,1214V1421M1439.5,1215V1443M1440.5,1239V1416M1441.5,1223V1424M1442.5,1216V1434M1443.5,1216V1431M1444.5,1249V1418M1445.5,1228V1381M1446.5,1233V1425M1447.5,1224V1433M1448.5,1223V1425M1449.5,1230V1417M1450.5,1238V1398M1451.5,1254V1411M1452.5,1242V1415M1453.5,1242V1412M1454.5,1231V1385M1455.5,1244V1393M1456.5,1245V1396M1457.5,1253V1379M1458.5,1231V1374M1459.5,1232V1359M1460.5,1223V1368M1461.5,1244V1371M1462.5,1234V1368M1463.5,1223V1341M1464.5,1235V1350M1465.5,1250V1356M1466.5,1227V1352M1467.5,1220V1336M1468.5,1221V1322M1469.5,1234V1333M1470.5,1231V1336M1471.5,1243V1319M1472.5,1221V1323M1473.5,1220V1304M1474.5,1208V1316M1475.5,1205V1315M1476.5,1217V1318M1477.5,1235V1313M1478.5,1232V1300M1479.5,1230V1269M1480.5,1237V1283M1481.5,1253V1289M1482.5,1276V1304M1483.5,1275V1302M1484.5,1274V1301M1485.5,1274V1300M1486.5,1273V1299M1487.5,1272V1298M1488.5,1271V1297M1489.5,1270V1296M1490.5,1270V1294M1491.5,1269V1293M1492.5,1268V1292M1493.5,1267V1291M1494.5,1266V1290M1495.5,1265V1288M1496.5,1265V1287M1497.5,1264V1286M1498.5,1263V1285M1499.5,1263V1284M1500.5,1262V1284M1501.5,1262V1283M1502.5,1262V1283M1503.5,1262V1283M1504.5,1262V1284M1505.5,1263V1285M1506.5,1264V1286M1507.5,1264V1288M1508.5,1265V1289M1509.5,1266V1291M1510.5,1267V1293M1511.5,1268V1294M1512.5,1268V1296M1513.5,1269V1297M1514.5,1270V1298M1515.5,1271V1300M1516.5,1272V1301M1517.5,1275V1299M1518.5,1269V1301M1519.5,1269V1299M1520.5,1270V1298M1521.5,1279V1294M1522.5,1273V1297M1523.5,1268V1299M1524.5,1267V1296M1525.5,1269V1289M1526.5,1268V1298M1527.5,1284V1300M1528.5,1261V1290M1529.5,1265V1300M1530.5,1269V1296M1531.5,1267V1293M1532.5,1261V1298M1533.5,1265V1296M1534.5,1271V1289M1535.5,1261V1296M1536.5,1257V1296M1537.5,1256V1298M1538.5,1270V1298M1539.5,1253V1295M1540.5,1249V1291M1541.5,1251V1294M1542.5,1250V1298M1543.5,1263V1297M1544.5,1244V1295M1545.5,1243V1293M1546.5,1242V1291M1547.5,1241V1290M1548.5,1240V1289M1549.5,1239V1288M1550.5,1238V1287M1551.5,1237V1286M1552.5,1236V1285M1553.5,1236V1285M1554.5,1235V1284M1555.5,1235V1284M1556.5,1235V1283M1557.5,1235V1283M1558.5,1234V1283M1559.5,1234V1283M1560.5,1234V1283M1561.5,1234V1283M1562.5,1234V1283M1563.5,1234V1283M1564.5,1234V1284M1565.5,1235V1285M1566.5,1236V1286M1567.5,1236V1288M1568.5,1237V1290M1569.5,1238V1292M1570.5,1240V1295M1571.5,1241V1297M1572.5,1242V1299M1573.5,1243V1302M1574.5,1244V1304M1575.5,1246V1306M1576.5,1247V1308M1577.5,1248V1310M1578.5,1250V1312M1579.5,1251V1315M1580.5,1253V1317M1581.5,1254V1319M1582.5,1256V1321M1583.5,1257V1324M1584.5,1259V1326M1585.5,1261V1329M1586.5,1283V1343M1587.5,1274V1344M1588.5,1281V1348M1589.5,1311V1349M1590.5,1285V1330M1591.5,1279V1349M1592.5,1279V1349M1593.5,1285V1343M1594.5,1298V1342M1595.5,1284V1332M1596.5,1279V1333M1597.5,1286V1343M1598.5,1286V1344M1599.5,1300V1335M1600.5,1284V1322M1601.5,1275V1348M1602.5,1280V1356M1603.5,1296V1356M1604.5,1281V1347M1605.5,1284V1348M1606.5,1277V1342M1607.5,1277V1346M1608.5,1288V1340M1609.5,1282V1326M1610.5,1300V1352M1611.5,1295V1352M1612.5,1286V1362M1613.5,1286V1362M1614.5,1292V1357M1615.5,1305V1345M1616.5,1285V1362M1617.5,1279V1361M1618.5,1279V1369M1619.5,1298V1370M1620.5,1292V1367M1621.5,1291V1351M1622.5,1286V1367M1623.5,1286V1368M1624.5,1296V1377M1625.5,1306V1370M1626.5,1298V1357M1627.5,1296V1381M1628.5,1291V1383M1629.5,1300V1374M1630.5,1314V1378M1631.5,1291V1372M1632.5,1295V1390M1633.5,1288V1385M1634.5,1288V1373M1635.5,1320V1395M1636.5,1284V1390M1637.5,1285V1358M1638.5,1294V1396M1639.5,1303V1401M1640.5,1297V1403M1641.5,1289V1395M1642.5,1289V1385M1643.5,1297V1401M1644.5,1308V1401M1645.5,1302V1407M1646.5,1298V1408M1647.5,1308V1405M1648.5,1305V1390M1649.5,1319V1412M1650.5,1300V1413M1651.5,1296V1397M1652.5,1305V1410M1653.5,1319V1411M1654.5,1302V1417M1655.5,1295V1417M1656.5,1296V1412M1657.5,1318V1396M1658.5,1296V1416M1659.5,1296V1415M1660.5,1304V1423M1661.5,1325V1418M1662.5,1308V1421M1663.5,1318V1408M1664.5,1318V1415M1665.5,1346V1420M1666.5,1310V1413M1667.5,1311V1405M1668.5,1305V1421M1669.5,1334V1430M1670.5,1307V1430M1671.5,1301V1421M1672.5,1301V1422M1673.5,1321V1411M1674.5,1306V1422M1675.5,1306V1412M1676.5,1301V1399M1677.5,1300V1417M1678.5,1317V1424M1679.5,1329V1453M1680.5,1327V1451M1681.5,1325V1449M1682.5,1323V1448M1683.5,1321V1447M1684.5,1319V1446M1685.5,1318V1445M1686.5,1316V1444M1687.5,1315V1443M1688.5,1315V1443M1689.5,1314V1442M1690.5,1313V1442M1691.5,1312V1442M1692.5,1312V1441M1693.5,1311V1441M1694.5,1311V1441M1695.5,1311V1441M1696.5,1311V1441M1697.5,1312V1442M1698.5,1313V1443M1699.5,1314V1444M1700.5,1315V1446M1701.5,1316V1447M1702.5,1318V1449M1703.5,1319V1450M1704.5,1320V1452M1705.5,1322V1454M1706.5,1324V1456M1707.5,1326V1458M1708.5,1328V1460M1709.5,1247V1370M1710.5,1246V1384M1711.5,1241V1388M1712.5,1247V1360M1713.5,1267V1392M1714.5,1237V1394M1715.5,1237V1407M1716.5,1241V1409M1717.5,1265V1402M1718.5,1249V1385M1719.5,1239V1407M1720.5,1238V1415M1721.5,1269V1416M1722.5,1246V1405M1723.5,1234V1389M1724.5,1242V1414M1725.5,1257V1422M1726.5,1241V1423M1727.5,1244V1414M1728.5,1233V1395M1729.5,1233V1414M1730.5,1255V1421M1731.5,1241V1426M1732.5,1229V1425M1733.5,1230V1405M1734.5,1239V1418M1735.5,1258V1415M1736.5,1247V1423M1737.5,1228V1432M1738.5,1231V1433M1739.5,1234V1425M1740.5,1237V1407M1741.5,1239V1430M1742.5,1241V1430M1743.5,1243V1439M1744.5,1245V1413M1745.5,1245V1432M1746.5,1246V1439M1747.5,1247V1440M1748.5,1247V1434M1749.5,1248V1432M1750.5,1248V1410M1751.5,1248V1444M1752.5,1249V1411M1753.5,1249V1429M1754.5,1249V1436M1755.5,1250V1428M1756.5,1250V1393M1757.5,1250V1445M1758.5,1251V1437M1759.5,1251V1411M1760.5,1252V1451M1761.5,1253V1442M1762.5,1253V1425M1763.5,1254V1441M1764.5,1255V1441M1765.5,1256V1448M1766.5,1257V1449M1767.5,1257V1429M1768.5,1258V1447M1769.5,1259V1454M1770.5,1260V1448M1771.5,1262V1425M1772.5,1263V1447M1773.5,1264V1454M1774.5,1265V1448M1775.5,1266V1407M1776.5,1267V1448M1777.5,1217V1402M1778.5,1217V1408M1779.5,1224V1420M1780.5,1259V1425M1781.5,1237V1423M1782.5,1227V1409M1783.5,1227V1432M1784.5,1234V1446M1785.5,1277V1449M1786.5,1225V1443M1787.5,1225V1431M1788.5,1219V1444M1789.5,1219V1453M1790.5,1229V1453M1791.5,1244V1430M1792.5,1227V1439M1793.5,1222V1437M1794.5,1222V1427M1795.5,1245V1430M1796.5,1232V1410M1797.5,1239V1439M1798.5,1258V1440M1799.5,1227V1449M1800.5,1230V1420M1801.5,1219V1444M1802.5,1220V1450M1803.5,1227V1442M1804.5,1272V1437M1805.5,1225V1427M1806.5,1224V1423M1807.5,1251V1433M1808.5,1227V1433M1809.5,1221V1408M1810.5,1220V1417M1811.5,1226V1426M1812.5,1232V1425M1813.5,1249V1413M1814.5,1226V1400M1815.5,1229V1419M1816.5,1216V1425M1817.5,1215V1423M1818.5,1245V1413M1819.5,1222V1398M1820.5,1211V1418M1821.5,1210V1422M1822.5,1235V1414M1823.5,1223V1392M1824.5,1210V1402M1825.5,1209V1397M1826.5,1219V1405M1827.5,1233V1402M1828.5,1214V1390M1829.5,1243V1367M1830.5,1212V1383M1831.5,1203V1381M1832.5,1216V1374M1833.5,1227V1358M1834.5,1211V1340M1835.5,1211V1364M1836.5,1202V1357M1837.5,1204V1337M1838.5,1213V1321M1839.5,1255V1326M1840.5,1217V1331M1841.5,1208V1319M1842.5,1212V1299M1843.5,1225V1301M1844.5,1243V1307M1845.5,1248V1304M1846.5,1243V1292M1847.5,1249V1291M1848.5,1267V1300M1849.5,1266V1298M1850.5,1265V1297M1851.5,1264V1295M1852.5,1263V1293M1853.5,1262V1292M1854.5,1261V1290M1855.5,1260V1289M1856.5,1259V1287M1857.5,1258V1286M1858.5,1258V1284M1859.5,1257V1283M1860.5,1256V1281M1861.5,1256V1280M1862.5,1255V1278M1863.5,1254V1277M1864.5,1254V1275M1865.5,1253V1274M1866.5,1253V1273M1867.5,1253V1273M1868.5,1253V1273M1869.5,1253V1273M1870.5,1253V1274M1871.5,1255V1276M1872.5,1256V1279M1873.5,1258V1282M1874.5,1259V1284M1875.5,1261V1287M1876.5,1263V1289M1877.5,1265V1291M1878.5,1267V1293M1879.5,1269V1295M1880.5,1271V1297M1881.5,1273V1299M1882.5,1276V1301M1883.5,1269V1291M1884.5,1263V1294M1885.5,1262V1293M1886.5,1263V1290M1887.5,1275V1284M1888.5,1260V1294M1889.5,1262V1296M1890.5,1262V1289M1891.5,1270V1292M1892.5,1253V1294M1893.5,1253V1292M1894.5,1256V1292M1895.5,1268V1287M1896.5,1253V1292M1897.5,1250V1295M1898.5,1250V1295M1899.5,1253V1293M1900.5,1254V1287M1901.5,1259V1294M1902.5,1250V1297M1903.5,1246V1297M1904.5,1245V1295M1905.5,1248V1294M1906.5,1255V1289M1907.5,1250V1293M1908.5,1249V1293M1909.5,1245V1295M1910.5,1248V1295M1911.5,1260V1286M1912.5,1247V1291M1913.5,1244V1292M1914.5,1244V1290M1915.5,1249V1284M1916.5,1243V1293M1917.5,1242V1292M1918.5,1241V1290M1919.5,1240V1289M1920.5,1239V1289M1921.5,1238V1288M1922.5,1237V1287M1923.5,1237V1287M1924.5,1237V1286M1925.5,1236V1286M1926.5,1236V1286M1927.5,1236V1286M1928.5,1236V1286M1929.5,1236V1286M1930.5,1237V1287M1931.5,1237V1288M1932.5,1238V1289M1933.5,1240V1291M1934.5,1241V1292M1935.5,1243V1294M1936.5,1244V1296M1937.5,1246V1298M1938.5,1248V1300M1939.5,1249V1302M1940.5,1251V1304M1941.5,1252V1306M1942.5,1254V1307M1943.5,1256V1309M1944.5,1258V1311M1945.5,1260V1312M1946.5,1262V1315M1947.5,1263V1317M1948.5,1265V1319M1949.5,1266V1322M1950.5,1267V1325M1951.5,1268V1329M1952.5,1268V1333M1953.5,1269V1338M1954.5,1270V1343M1955.5,1280V1341M1956.5,1274V1334M1957.5,1279V1326M1958.5,1309V1341M1959.5,1281V1343M1960.5,1280V1348M1961.5,1302V1349M1962.5,1277V1328M1963.5,1278V1345M1964.5,1273V1345M1965.5,1273V1351M1966.5,1278V1352M1967.5,1290V1343M1968.5,1277V1349M1969.5,1276V1323M1970.5,1300V1356M1971.5,1283V1357M1972.5,1276V1338M1973.5,1277V1350M1974.5,1294V1359M1975.5,1289V1360M1976.5,1283V1338M1977.5,1284V1360M1978.5,1290V1341M1979.5,1312V1361M1980.5,1292V1368M1981.5,1286V1362M1982.5,1286V1365M1983.5,1291V1330M1984.5,1296V1364M1985.5,1306V1371M1986.5,1292V1343M1987.5,1287V1365M1988.5,1284V1374M1989.5,1284V1375M1990.5,1314V1337M1991.5,1290V1362M1992.5,1281V1364M1993.5,1300V1371M1994.5,1285V1373M1995.5,1281V1365M1996.5,1288V1367M1997.5,1287V1357M1998.5,1303V1381M1999.5,1301V1382M2000.5,1292V1389M2001.5,1293V1371M2002.5,1300V1391M2003.5,1317V1392M2004.5,1287V1385M2005.5,1314V1368M2006.5,1288V1384M2007.5,1288V1392M2008.5,1292V1393M2009.5,1308V1387M2010.5,1304V1378M2011.5,1296V1400M2012.5,1297V1400M2013.5,1307V1407M2014.5,1302V1408M2015.5,1320V1405M2016.5,1303V1386M2017.5,1302V1399M2018.5,1297V1403M2019.5,1298V1410M2020.5,1308V1411M2021.5,1333V1407M2022.5,1306V1383M2023.5,1300V1416M2024.5,1301V1427M2025.5,1307V1428M2026.5,1308V1422M2027.5,1320V1416M2028.5,1302V1436M2029.5,1295V1437M2030.5,1295V1433M2031.5,1335V1432M2032.5,1297V1421M2033.5,1307V1432M2034.5,1315V1442M2035.5,1310V1438M2036.5,1301V1424M2037.5,1302V1431M2038.5,1326V1437M2039.5,1308V1436M2040.5,1311V1431M2041.5,1305V1419M2042.5,1305V1436M2043.5,1316V1437M2044.5,1313V1442M2045.5,1325V1442M2046.5,1316V1418M2047.5,1312V1429M2048.5,1309V1427M2049.5,1309V1433M2050.5,1316V1423M2051.5,1316V1421M2052.5,1330V1396M2053.5,1344V1470M2054.5,1343V1470M2055.5,1343V1470M2056.5,1342V1471M2057.5,1342V1471M2058.5,1342V1472M2059.5,1342V1472M2060.5,1342V1472M2061.5,1342V1473M2062.5,1343V1474M2063.5,1344V1475M2064.5,1344V1476M2065.5,1345V1477M2066.5,1346V1478M2067.5,1347V1479M2068.5,1349V1481M2069.5,1350V1483M2070.5,1352V1486M2071.5,1355V1489M2072.5,1357V1493M2073.5,1276V1400M2074.5,1263V1404M2075.5,1250V1391M2076.5,1243V1373M2077.5,1250V1389M2078.5,1281V1396M2079.5,1231V1372M2080.5,1231V1388M2081.5,1243V1397M2082.5,1257V1389M2083.5,1224V1372M2084.5,1237V1396M2085.5,1237V1407M2086.5,1249V1413M2087.5,1246V1410M2088.5,1243V1396M2089.5,1234V1418M2090.5,1234V1414M2091.5,1244V1424M2092.5,1286V1425M2093.5,1238V1415M2094.5,1232V1405M2095.5,1232V1420M2096.5,1247V1426M2097.5,1256V1419M2098.5,1249V1403M2099.5,1248V1420M2100.5,1240V1430M2101.5,1240V1430M2102.5,1278V1422M2103.5,1260V1422M2104.5,1252V1391M2105.5,1218V1404M2106.5,1219V1407M2107.5,1220V1414M2108.5,1220V1415M2109.5,1221V1409M2110.5,1221V1396M2111.5,1221V1424M2112.5,1222V1424M2113.5,1222V1415M2114.5,1222V1399M2115.5,1222V1414M2116.5,1222V1412M2117.5,1222V1423M2118.5,1221V1422M2119.5,1221V1401M2120.5,1220V1414M2121.5,1220V1419M2122.5,1219V1420M2123.5,1219V1410M2124.5,1219V1395M2125.5,1218V1416M2126.5,1218V1425M2127.5,1218V1420M2128.5,1218V1404M2129.5,1218V1420M2130.5,1219V1431M2131.5,1220V1432M2132.5,1220V1401M2133.5,1221V1424M2134.5,1222V1426M2135.5,1224V1436M2136.5,1225V1437M2137.5,1226V1432M2138.5,1227V1431M2139.5,1229V1421M2140.5,1230V1431M2141.5,1232V1442M2142.5,1234V1444M2143.5,1236V1436M2144.5,1239V1424M2145.5,1241V1440M2146.5,1244V1447M2147.5,1247V1441M2148.5,1250V1446M2149.5,1224V1436M2150.5,1223V1446M2151.5,1217V1445M2152.5,1224V1439M2153.5,1242V1402M2154.5,1236V1442M2155.5,1230V1453M2156.5,1231V1452M2157.5,1244V1443M2158.5,1254V1441M2159.5,1231V1425M2160.5,1220V1455M2161.5,1226V1455M2162.5,1276V1428M2163.5,1233V1439M2164.5,1232V1448M2165.5,1222V1423M2166.5,1222V1437M2167.5,1271V1441M2168.5,1223V1445M2169.5,1223V1442M2170.5,1229V1432M2171.5,1234V1418M2172.5,1252V1415M2173.5,1219V1416M2174.5,1219V1422M2175.5,1225V1420M2176.5,1250V1398M2177.5,1229V1420M2178.5,1223V1430M2179.5,1224V1403M2180.5,1230V1420M2181.5,1245V1392M2182.5,1228V1414M2183.5,1234V1411M2184.5,1220V1397M2185.5,1221V1368M2186.5,1231V1398M2187.5,1224V1392M2188.5,1249V1380M2189.5,1207V1356M2190.5,1206V1387M2191.5,1217V1383M2192.5,1218V1366M2193.5,1233V1352M2194.5,1217V1354M2195.5,1216V1350M2196.5,1209V1357M2197.5,1209V1353M2198.5,1217V1341M2199.5,1223V1337M2200.5,1240V1314M2201.5,1216V1335M2202.5,1222V1330M2203.5,1212V1336M2204.5,1216V1331M2205.5,1225V1301M2206.5,1267V1311M2207.5,1232V1312M2208.5,1278V1294M2209.5,1275V1293M2210.5,1272V1292M2211.5,1269V1291M2212.5,1266V1290M2213.5,1264V1289M2214.5,1261V1288M2215.5,1259V1287M2216.5,1258V1286M2217.5,1256V1285M2218.5,1255V1285M2219.5,1255V1284M2220.5,1254V1283M2221.5,1254V1283M2222.5,1254V1282M2223.5,1255V1282M2224.5,1256V1282M2225.5,1256V1281M2226.5,1258V1281M2227.5,1259V1280M2228.5,1260V1280M2229.5,1261V1280M2230.5,1262V1280M2231.5,1263V1280M2232.5,1264V1280M2233.5,1265V1281M2234.5,1265V1282M2235.5,1266V1283M2236.5,1267V1284M2237.5,1268V1285M2238.5,1269V1287M2239.5,1270V1289M2240.5,1271V1291M2241.5,1272V1292M2242.5,1273V1295M2243.5,1274V1297M2244.5,1268V1296M2245.5,1263V1296M2246.5,1262V1293M2247.5,1265V1288M2248.5,1272V1294M2249.5,1267V1296M2250.5,1263V1296M2251.5,1263V1287M2252.5,1272V1294M2253.5,1257V1293M2254.5,1254V1296M2255.5,1254V1296M2256.5,1255V1293M2257.5,1262V1292M2258.5,1261V1289M2259.5,1260V1296M2260.5,1255V1297M2261.5,1254V1297M2262.5,1258V1291M2263.5,1256V1295M2264.5,1264V1297M2265.5,1250V1297M2266.5,1247V1295M2267.5,1246V1291M2268.5,1249V1294M2269.5,1254V1296M2270.5,1252V1296M2271.5,1248V1295M2272.5,1247V1289M2273.5,1251V1294M2274.5,1259V1297M2275.5,1250V1297M2276.5,1244V1293M2277.5,1243V1290M2278.5,1247V1294M2279.5,1262V1294M2280.5,1257V1302M2281.5,1256V1301M2282.5,1255V1301M2283.5,1254V1301M2284.5,1253V1300M2285.5,1252V1300M2286.5,1251V1300M2287.5,1251V1300M2288.5,1250V1300M2289.5,1250V1300M2290.5,1250V1300M2291.5,1250V1300M2292.5,1250V1301M2293.5,1251V1301M2294.5,1251V1303M2295.5,1252V1304M2296.5,1253V1306M2297.5,1254V1308M2298.5,1255V1310M2299.5,1256V1312M2300.5,1257V1314M2301.5,1259V1317M2302.5,1260V1319M2303.5,1260V1321M2304.5,1261V1324M2305.5,1262V1326M2306.5,1263V1329M2307.5,1264V1332M2308.5,1266V1336M2309.5,1267V1339M2310.5,1268V1343M2311.5,1269V1346M2312.5,1270V1350M2313.5,1285V1349M2314.5,1280V1349M2315.5,1295V1334M2316.5,1283V1341M2317.5,1277V1345M2318.5,1278V1345M2319.5,1291V1340M2320.5,1277V1344M2321.5,1276V1334M2322.5,1272V1349M2323.5,1273V1354M2324.5,1279V1349M2325.5,1287V1340M2326.5,1277V1355" stroke="#3300FF" stroke-width="1" fill="none" shape-rendering="crispEdges"/>
<text transform="translate(231,1140.7) scale(0.955,1)" font-size="82" text-anchor="end" stroke="#000" stroke-width="0.3">3.9</text>
<text transform="translate(231,1288.2) scale(0.955,1)" font-size="82" text-anchor="end" stroke="#000" stroke-width="0.3">3.8</text>
<text transform="translate(231,1435.6) scale(0.955,1)" font-size="82" text-anchor="end" stroke="#000" stroke-width="0.3">3.7</text>
<text transform="translate(231,1583.1) scale(0.955,1)" font-size="82" text-anchor="end" stroke="#000" stroke-width="0.3">3.6</text>
<text transform="translate(231,1730.5) scale(0.955,1)" font-size="82" text-anchor="end" stroke="#000" stroke-width="0.3">3.5</text>
<text transform="translate(231,1878) scale(0.955,1)" font-size="82" text-anchor="end" stroke="#000" stroke-width="0.3">3.4</text>
<text transform="translate(272.3,1916) scale(0.955,1)" font-size="82" text-anchor="middle" stroke="#000" stroke-width="0.3">0</text>
<text transform="translate(693.9,1916) scale(0.955,1)" font-size="82" text-anchor="middle" stroke="#000" stroke-width="0.3">0.05</text>
<text transform="translate(1108.4,1916) scale(0.955,1)" font-size="82" text-anchor="middle" stroke="#000" stroke-width="0.3">0.1</text>
<text transform="translate(1523,1916) scale(0.955,1)" font-size="82" text-anchor="middle" stroke="#000" stroke-width="0.3">0.15</text>
<text transform="translate(1937.5,1916) scale(0.955,1)" font-size="82" text-anchor="middle" stroke="#000" stroke-width="0.3">0.2</text>
<text transform="translate(2352.1,1916) scale(0.955,1)" font-size="82" text-anchor="middle" stroke="#000" stroke-width="0.3">0.25</text>
<text transform="translate(1222,1985) scale(1.0,1)" font-size="82" text-anchor="start" stroke="#000" stroke-width="0.3">Time (s)</text>
<text transform="translate(104.3,1822.5) rotate(-90) scale(1.015,1)" font-size="82" text-anchor="start" stroke="#000" stroke-width="0.3">Total torque(N<tspan dy="-16">·</tspan><tspan dy="16">m)</tspan></text>
<text x="1246" y="2107" font-size="82" text-anchor="middle" stroke="#000" stroke-width="0.5">(<tspan font-weight="bold">b</tspan>)</text>
</g>
<g id="plot-c">
<rect x="267" y="2183" width="1992" height="690" fill="none" stroke="#000" stroke-width="2" shape-rendering="crispEdges"/>
<path d="M663,2873v-22M663,2183v22M1062,2873v-22M1062,2183v22M1461,2873v-22M1461,2183v22M1860,2873v-22M1860,2183v22" stroke="#000" stroke-width="2" fill="none" shape-rendering="crispEdges"/>
<path d="M267,2321h21M2259,2321h-21M267,2459h21M2259,2459h-21M267,2597h21M2259,2597h-21M267,2735h21M2259,2735h-21" stroke="#000" stroke-width="2" fill="none" shape-rendering="crispEdges"/>
<path d="M267,2734.3L269,2734.3L271,2734.3L273,2734.3L275,2734.4L277,2734.4L279,2734.4L281,2734.4L283,2734.4L285,2734.4L287,2734.5L289,2734.5L291,2734.5L293,2734.5L295,2734.5L297,2734.5L299,2734.6L301,2734.6L303,2734.6L305,2734.6L307,2734.6L309,2734.7L311,2734.7L313,2734.7L315,2734.7L317,2734.7L319,2734.8L321,2734.8L323,2734.8L325,2734.8L327,2734.9L329,2734.9L331,2734.9L333,2734.9L335,2734.9L337,2735L339,2735L341,2735L343,2735L345,2735.1L347,2735.1L349,2735.1L351,2735.1L353,2735.2L355,2735.2L357,2735.2L359,2735.2L361,2735.3L363,2735.3L365,2735.3L367,2735.3L369,2735.4L371,2735.4L373,2735.4L375,2735.5L377,2735.5L379,2735.5L381,2735.5L383,2735.6L385,2735.6L387,2735.6L389,2735.7L391,2735.7L393,2735.7L395,2735.8L397,2735.8L399,2735.8L401,2735.8L403,2735.9L405,2735.9L407,2735.9L409,2736L411,2736L413,2736L415,2736.1L416.6,2736.1" stroke="#3300FF" stroke-width="2.0" fill="none" stroke-linejoin="bevel" shape-rendering="crispEdges"/>
<path d="M416.6,2728.8L418.1,2728L419.2,2728.6L420.5,2727.8L421.6,2728.3L422.9,2727.5L424.1,2727.8L425.2,2727L426.5,2727.3L427.9,2726.3L429,2726.7L430.3,2725.6L431.7,2725.9L432.9,2724.7L434.1,2725L435.5,2723.9L436.6,2724.1L438,2722.7L439.3,2722.7L440.4,2721.4L441.6,2721.2L442.8,2719.8L443.9,2719.5L445.1,2717.9L446.5,2717.4L447.7,2715.7L448.9,2715.3L450.3,2713.5L451.4,2713.2L452.8,2711.1L453.9,2710.6L455.5,2708.2L457,2707.1L458.5,2704.6L459.8,2703.5L461.3,2701L462.8,2699.7L464.3,2696.9L465.9,2695.5L467.1,2693L468.3,2691.9L469.4,2689.7L470.6,2688.7L472.1,2685.6L473.2,2684.5L474.3,2682L475.8,2680.2L477,2677.4L478.3,2675.9L479.8,2672.6L481.3,2670.7L482.6,2667.8L484.1,2665.8L485.2,2663L486.5,2661.3L487.8,2658L489.3,2655.8L490.6,2652.5L492,2650.4L493.1,2647.2L494.2,2645.6L495.5,2642.1L496.9,2639.8L498.1,2636.1L499.2,2634.3L500.6,2630.2L502.1,2626.9L503.5,2622.7L504.8,2619.9L505.9,2616.4L507.2,2613.6L508.5,2609.3L509.8,2606.3L511.3,2601.6L512.8,2598.3L514.1,2594L515.5,2590.9L516.7,2587L517.9,2584.3L519.4,2579.4L520.7,2576.6L522.2,2571.8L523.5,2568.7L524.7,2564.7L525.8,2561.9L527.3,2556.9L528.4,2554.2L529.5,2550.2L530.8,2547L531.9,2542.5L533.1,2539.5L534.5,2534.5L535.9,2530.3L537.2,2525.7L538.6,2521.4L540.1,2516.2L541.5,2512.3L542.5,2508.1L543.9,2504.3L545.5,2498.7L546.6,2495.7L548,2490.8L549.4,2486.8L550.8,2481.6L552.2,2477.7L553.6,2472.7L554.8,2469.4L555.9,2465.3L557,2462.3L558.2,2457.8L559.6,2454.3L560.8,2449.6L562.2,2445.9L563.7,2440.5L565.2,2436.5L566.8,2430.9L568,2427.6L569.5,2422.3L570.7,2419L572.2,2413.6L573.3,2410.5L574.4,2406.4L575.6,2402.8L577,2397.6L578.2,2394.2L579.5,2388.7L580.7,2385.5L582,2380L583.3,2376.2L584.6,2371.1L586.1,2366.7L587.5,2361.3L588.6,2358.5L589.8,2353.8L590.9,2351L592.1,2346.4L593.6,2342.7L594.9,2337.7L596.1,2334.9L597.1,2330.9L598.5,2327.7L599.6,2323.8L600.8,2320.6L602.2,2316.1L603.6,2313L604.9,2308.6L606.1,2306.3L607.6,2301.6L608.8,2299.2L610.1,2295.2L611.3,2293L612.4,2289.7L613.7,2287.2L614.8,2283.9L616.4,2281L617.5,2277.8L619,2275.1L620.5,2271.4L621.6,2269.8L623,2266L624.3,2263.9L625.5,2260.8L627.1,2258.4L628.6,2254.8L630,2252.8L631.1,2250.1L632.2,2248.8L633.3,2246.4L634.4,2245.4L635.4,2243L636.9,2241.7L638.2,2239.1L639.6,2237.8L641,2235.3L642.4,2234.3L643.9,2231.8L645.4,2231L646.6,2229.3L647.9,2229.1L649.1,2227.6L650.5,2227.4L651.7,2226.1L653.2,2226.1L654.5,2224.9L655.9,2225.2L657.2,2224.3L658.8,2225.1L660.2,2224.2L661.6,2225L663,2223.9L664.5,2224.8L665.8,2223.8L667,2224.8L668.5,2223.6L669.6,2224.8L670.9,2223.5L672.1,2224.7L673.5,2223.6L674.5,2224.9L676.1,2223.3L677.5,2224.7L678.8,2223.3L680.3,2224.9L681.3,2223.1L682.5,2225L683.8,2223.2L685,2224.8L686.3,2223.2L687.7,2225L689.1,2223.2L690.5,2224.9L692,2222.9L693.1,2225.3L694.5,2223L695.6,2225.3L697.1,2223L698.6,2225.4L700,2222.8L701.1,2225.2L702.4,2222.9L703.9,2225.4L705.3,2222.8L706.8,2225.3L708.3,2222.8L709.5,2225.3L710.6,2223L711.8,2225.3L712.9,2222.7L714.1,2226L715.6,2222.3L717.1,2225.9L718.2,2222.2L719.3,2226.9L720.6,2221.9L721.8,2226.5L723.1,2222.1L724.3,2227.9L725.8,2222.1L727.4,2228.6L728.5,2222.1L729.9,2228.9L731.2,2222.4L732.5,2229.7L733.6,2222.7L734.8,2230.1L735.9,2223.3L737,2229.5L738.2,2222L739.5,2229.9L740.8,2222.9L742.2,2231.5L743.5,2222.1L744.8,2232.2L746.3,2221.7L747.7,2231.3L749,2221.9L750.4,2232.4L751.9,2221.8L753.2,2232.4L754.3,2222.5L755.7,2233.2L757.2,2222.6L758.4,2233.3L759.7,2223.1L760.8,2233.5L762.1,2223.3L763.7,2233L765.1,2221.7L766.3,2233L767.4,2222.1L768.7,2233.8L769.8,2223L771,2232.1L772.3,2221.3L773.8,2232.7L775.3,2223.1L776.4,2233.8L777.6,2223.2L778.7,2232.8L779.8,2221.6L780.9,2233.8L782,2222.1L783.1,2233.5L784.5,2223.7L785.8,2233.5L787.1,2222.3L788.1,2234.8L789.3,2222L790.4,2233.1L791.6,2223.7L792.7,2233.3L793.8,2221.9L795.1,2234.2L796.4,2222L797.5,2233.2L798.9,2224L800.2,2234.7L801.7,2224.1L802.9,2234L804.3,2224L805.7,2235.7L807,2222.5L808.5,2235.6L810,2223L811.1,2235.5L812.5,2222.5L813.7,2236.1L815.1,2223.5L816.5,2234.3L817.7,2222L818.8,2236L820,2222.9L821.4,2236.2L822.6,2224.1L823.9,2234.5L825.1,2224.1L826.2,2235.5L827.3,2223.8L828.5,2234.3L830,2222.2L831.1,2236.3L832.2,2222.6L833.3,2236.2L834.8,2223.9L835.9,2235.2L837.4,2222.6L838.5,2236.8L839.9,2222.1L841.5,2235L842.9,2224.6L844.1,2236.1L845.2,2224.2L846.4,2235.9L848,2223.2L849.3,2236.8L850.4,2222.7L851.9,2237.2L853.1,2223.4L854.2,2236.3L855.6,2222.3L857.1,2236.2L858.5,2222.5L860.1,2237.3L861.3,2222.5L862.3,2237.1L863.6,2222.4L865,2236.2L866.1,2224.9L867.5,2238L868.8,2224.4L870.1,2236.5L871.4,2224L872.6,2238.1L873.8,2224.1L875.1,2239L876.2,2224.2L877.4,2237.3L878.7,2222.7L879.8,2238.7L881.1,2223.5L882.4,2238.5L883.5,2223.4L884.8,2239.3L886.1,2224.1L887.7,2237.6L888.7,2225L890.1,2237.5L891.6,2225.2L892.8,2239.4L893.8,2224.2L895.4,2239.9L896.6,2222.7L897.9,2240.5L899.2,2224.5L900.6,2240.5L902,2225.4L903.2,2239.3L904.4,2225.6L905.8,2239L907,2226.1L908.4,2240.9L909.5,2223.1L911.1,2241.6L912.5,2224.1L913.6,2240.3L914.8,2226.6L916.1,2241.7L917.4,2224.2L918.5,2240.9L919.6,2226.2L921.1,2242L922.5,2224.2L923.9,2241.9L925.5,2227.3L926.7,2244.3L928.1,2226.6L929.6,2244.4L931,2227.4L932.4,2244.7L933.9,2226.9L935.4,2246.1L936.5,2227.3L937.7,2246.8L938.9,2226.4L940.1,2249L941.6,2230.2L942.9,2248.8L944.2,2231.4L945.6,2252.1L946.7,2233L948,2254.9L949.3,2236.4L950.7,2259.6L952,2243.6L953.2,2264.3L954.5,2250.3L955.6,2266.8L956.7,2254.5L957.9,2273.6L959.1,2261.5L960.4,2279.4L961.5,2267.9L963,2286L964,2275.8L965.5,2295.4L966.8,2282.9L968.1,2304.5L969.6,2295.5L970.8,2313.5L972,2301.3L973.1,2322.4L974.4,2312L975.9,2332L977.2,2323.5L978.6,2342L979.8,2334.9L980.9,2352.2L982,2343.2L983.2,2361.7L984.5,2355.3L985.6,2374.8L986.8,2367.4L988.3,2389.5L989.5,2378.9L990.9,2400.2L992.2,2394.4L993.4,2414.5L994.4,2406.9L996,2429.8L997.2,2419.4L998.4,2442.7L999.6,2432L1000.9,2455.1L1002,2445.2L1003.2,2466.2L1004.7,2459.3L1006,2477.9L1007,2471.1L1008.1,2489.5L1009.4,2481.2L1010.8,2505.3L1012,2497.1L1013.2,2517.1L1014.3,2509.8L1015.8,2530.3L1017.1,2524.7L1018.5,2544.2L1019.8,2536.9L1021.1,2557.4L1022.6,2552.8L1024.1,2574.3L1025.6,2565L1026.9,2587L1028.2,2578.2L1029.4,2600.1L1030.6,2590.2L1031.7,2608.8L1033.2,2603.2L1034.4,2624.6L1035.8,2616.2L1037.1,2635.5L1038.5,2627.6L1039.7,2647.9L1041,2637.6L1042.4,2658.9L1043.6,2647.3L1044.9,2666.8L1046.1,2656.5L1047.5,2679.4L1048.8,2668L1050.1,2688L1051.4,2677.7L1052.9,2697.2L1054,2685.3L1055.1,2703.8L1056.4,2695L1057.6,2712.4L1059,2701.3L1060.4,2718.5L1061.5,2709.1L1062.7,2724.5L1064.2,2714.4L1065.7,2728.1L1067.1,2716.4L1068.7,2732.8L1069.7,2721.4L1071,2735.3L1072.5,2722.8L1073.6,2736L1075,2726.9L1076.3,2736.9L1077.6,2727.2L1078.7,2737.7L1079.2,2730" stroke="#3300FF" stroke-width="3.0" fill="none" stroke-linejoin="bevel" shape-rendering="crispEdges"/>
<path d="M1079.2,2734.6L1081.2,2734.5L1083.2,2734.4L1085.2,2734.3L1087.2,2734.2L1089.2,2734.1L1091.2,2734L1093.2,2733.9L1095.2,2733.8L1097.2,2733.7L1099.2,2733.6L1101.2,2733.5L1103.2,2733.4L1105.2,2733.3L1107.2,2733.2L1109.2,2733.1L1111.2,2733L1113.2,2732.9L1115.2,2732.8L1117.2,2732.7L1119.2,2732.6L1121.2,2732.5L1123.2,2732.4L1125.2,2732.3L1127.2,2732.2L1129.2,2732.1L1131.2,2732L1133.2,2731.9L1135.2,2731.8L1137.2,2731.7L1139.2,2731.6L1141.2,2731.5L1143.2,2731.4L1145.2,2731.3L1147.2,2731.2L1149.2,2731.1L1151.2,2731L1153.2,2730.9L1155.2,2730.8L1157.2,2730.7L1159.2,2730.6L1161.2,2730.5L1163.2,2730.4L1165.2,2730.3L1167.2,2730.1L1169.2,2730L1171.2,2729.9L1173.2,2729.8L1175.2,2729.7L1177.2,2729.6L1179.2,2729.5L1181.2,2729.4L1183.2,2729.3L1185.2,2729.2L1187.2,2729.1L1189.2,2729L1191.2,2728.9L1193.2,2728.8L1195.2,2728.7L1197.2,2728.6L1199.2,2728.5L1201.2,2728.4L1203.2,2728.3L1205.2,2728.2L1207.2,2728.1L1209.2,2728L1211.2,2727.9L1213.2,2727.8L1215.2,2727.7L1217.2,2727.6L1219.2,2727.5L1221.2,2727.4L1223.2,2727.3L1225.2,2727.2L1227.2,2727.1L1229.2,2726.9L1231.2,2726.8L1233.2,2726.7L1235.2,2726.6L1237.2,2726.5L1239.2,2726.4L1241.2,2726.3L1243.2,2726.2L1245.2,2726.1L1247.2,2726L1249.2,2725.9L1251.2,2725.8L1253.2,2725.7L1255.2,2725.6L1257.2,2725.5L1259.2,2725.4L1261.2,2725.3L1263.2,2725.2L1265.2,2725.1L1267.2,2725L1269.2,2724.9L1271.2,2724.8L1273.2,2724.7L1275.2,2724.6L1277.2,2724.5L1279.2,2724.4L1281.2,2724.3L1283.2,2724.2L1285.2,2724.1L1287.2,2724L1289.2,2723.9L1291.2,2723.8L1293.2,2723.7L1295.2,2723.6L1297.2,2723.5L1299.2,2723.5L1301.2,2723.5L1303.2,2723.5L1305.2,2723.5L1307.2,2723.5L1309.2,2723.5L1311.2,2723.5L1313.2,2723.5L1315.2,2723.5L1317.2,2723.5L1319.2,2723.5L1321.2,2723.5L1323.2,2723.5L1325.2,2723.5L1327.2,2723.5L1329.2,2723.5L1331.2,2723.5L1333.2,2723.5L1335.2,2723.5L1337.2,2723.5L1339.2,2723.5L1341.2,2723.5L1343.2,2723.5L1345.2,2723.5L1347.2,2723.5L1349.2,2723.5L1351.2,2723.5L1353.2,2723.5L1355.2,2723.5L1357.2,2723.5L1359.2,2723.5L1361.2,2723.5L1363.2,2723.5L1365.2,2723.5L1367.2,2723.5L1369.2,2723.5L1371.2,2723.5L1373.2,2723.5L1375.2,2723.5L1377.2,2723.5L1379.2,2723.5L1381.2,2723.5L1383.2,2723.5L1385.2,2723.5L1387.2,2723.5L1389.2,2723.5L1391.2,2723.5L1393.2,2723.5L1395.2,2723.5L1397.2,2723.5L1399.2,2723.5L1401.2,2723.5L1403.2,2723.5L1405.2,2723.5L1407.2,2723.5L1409.2,2723.5L1411.2,2723.5L1413.2,2723.5L1415.2,2723.5L1417.2,2723.5L1419.2,2723.5L1421.2,2723.5L1423.2,2723.6L1425.2,2723.6L1427.2,2723.6L1429.2,2723.7L1431.2,2723.7L1433.2,2723.7L1435.2,2723.8L1437.2,2723.8L1439.2,2723.9L1441.2,2724L1443.2,2724L1445.2,2724.1L1447.2,2724.2L1449.2,2724.2L1451.2,2724.3L1453.2,2724.4L1455.2,2724.5L1457.2,2724.5L1459.2,2724.6L1461.2,2724.7L1463.2,2724.8L1465.2,2724.8L1467.2,2724.9L1469.2,2725L1471.2,2725L1473.2,2725.1L1475.2,2725.2L1477.2,2725.3L1479.2,2725.4L1481.2,2725.5L1483.2,2725.5L1485.2,2725.6L1487.2,2725.7L1489.2,2725.8L1491.2,2725.9L1493.2,2726L1495.2,2726.1L1497.2,2726.2L1499.2,2726.4L1501.2,2726.5L1503.2,2726.6L1505.2,2726.7L1507.2,2726.8L1509.2,2726.9L1511.2,2727L1513.2,2727.2L1515.2,2727.3L1517.2,2727.4L1519.2,2727.5L1521.2,2727.7L1523.2,2727.8L1525.2,2727.9L1527.2,2728L1529.2,2728.2L1531.2,2728.3L1533.2,2728.4L1535.2,2728.5L1537.2,2728.6L1539.2,2728.8L1541.2,2728.9L1543.2,2729L1545.2,2729.1L1547.2,2729.3L1549.2,2729.4L1551.2,2729.5L1553.2,2729.6L1555.2,2729.7L1557.2,2729.8L1559.2,2730L1561.2,2730.1L1563.2,2730.2L1565.2,2730.3L1567.2,2730.4L1569.2,2730.5L1571.2,2730.6L1573.2,2730.7L1575.2,2730.8L1577.2,2731L1579.2,2731.1L1581.2,2731.2L1583.2,2731.3L1585.2,2731.4L1587.2,2731.5L1589.2,2731.6L1591.2,2731.7L1593.2,2731.8L1595.2,2732L1597.2,2732.1L1599.2,2732.2L1601.2,2732.3L1603.2,2732.4L1605.2,2732.5L1607.2,2732.6L1609.2,2732.7L1611.2,2732.8L1613.2,2732.9L1615.2,2733.1L1617.2,2733.2L1619.2,2733.3L1621.2,2733.4L1623.2,2733.5L1625.2,2733.6L1627.2,2733.7L1629.2,2733.8L1631.2,2733.9L1633.2,2734.1L1635.2,2734.2L1637.2,2734.3L1639.2,2734.4L1641.2,2734.5L1643.2,2734.6L1645.2,2734.7L1647.2,2734.8L1649.2,2734.9L1651.2,2735L1653.2,2735.2L1655.2,2735.3L1657.2,2735.4L1659.2,2735.5L1661.2,2735.6L1663.2,2735.7L1664.8,2735.8" stroke="#3300FF" stroke-width="2.0" fill="none" stroke-linejoin="bevel" shape-rendering="crispEdges"/>
<path d="M1664.8,2728.7L1666,2727.9L1667.4,2728.1L1668.9,2726.7L1670.2,2726.5L1671.7,2724.7L1672.9,2724.2L1674.1,2722.5L1675.4,2721.6L1676.5,2719.4L1677.6,2717.9L1679,2714.4L1680.3,2712.1L1681.5,2708.5L1683,2705.6L1684.1,2702L1685.5,2698.7L1686.6,2694.6L1687.9,2691.1L1689.3,2685.4L1690.6,2681.5L1691.7,2676.6L1693.1,2671.8L1694.4,2666L1695.5,2662.3L1696.7,2656.6L1698.2,2650.5L1699.4,2644.2L1700.6,2639.3L1702,2631.9L1703.1,2627.4L1704.2,2621L1705.3,2615.7L1706.6,2608.1L1707.8,2602.1L1709,2594.7L1710.2,2588.8L1711.6,2580.1L1712.7,2574.6L1713.8,2567.5L1715.1,2560.3L1716.6,2551L1717.9,2543.2L1719,2535.8L1720.5,2527.6L1721.5,2520.4L1722.9,2512.2L1724.4,2501.6L1725.8,2492.9L1727.1,2484.3L1728.2,2478.1L1729.6,2469.9L1731,2463.2L1732.5,2455.5L1733.6,2451.3L1735,2444.4L1736.3,2439.4L1737.3,2433.9L1738.7,2428.3L1740,2421L1741.3,2414.8L1742.7,2406.2L1744.2,2398.7L1745.4,2391.4L1746.7,2384.9L1747.7,2378.8L1749.2,2372.5L1750.6,2364.9L1752.1,2358.4L1753.3,2352.4L1754.7,2346.7L1755.8,2341.2L1756.8,2337.3L1758.1,2330.7L1759.6,2324.7L1760.9,2318.1L1762.1,2313.5L1763.6,2306.1L1765.1,2300.6L1766.2,2295.6L1767.3,2291.6L1768.8,2285.2L1770.1,2281L1771.4,2275.4L1772.7,2271.2L1774,2266L1775.3,2262.3L1776.4,2258.3L1777.7,2255.1L1778.9,2250.8L1780.2,2248L1781.5,2243.9L1782.8,2241.1L1784.2,2237.2L1785.7,2234.5L1786.9,2231.3L1788.3,2229.1L1789.7,2226.4L1791.2,2225.6L1792.3,2223.8L1793.4,2223.4L1794.5,2221.9L1795.9,2221.7L1797.3,2220.5L1798.7,2221.2L1800.1,2220.3L1801.2,2221.1L1802.3,2220.1L1803.8,2221.2L1805,2220.2L1806.3,2221.6L1807.6,2220.2L1808.8,2221.7L1810.1,2220.1L1811.5,2221.9L1812.9,2220.3L1814.2,2222L1815.6,2220.2L1816.8,2222.2L1818.1,2220.4L1819.3,2222.2L1820.4,2220.5L1821.5,2222.5L1823,2220.4L1824.5,2222.8L1826,2220.3L1827.6,2223.1L1828.7,2220.6L1830.2,2223L1831.6,2220L1833.1,2223.2L1834.4,2220.2L1835.8,2223.1L1837.2,2220.6L1838.5,2223.8L1840,2219.9L1841.4,2223.6L1842.7,2220.1L1844,2223.6L1845.2,2220.1L1846.3,2224L1847.4,2220L1848.4,2223.8L1849.7,2219.7L1851.3,2224.4L1852.7,2220L1854,2224.4L1855.6,2219.5L1856.6,2224.7L1858.1,2219.4L1859.6,2224.5L1860.8,2220L1862,2225.2L1863.4,2219.4L1864.6,2225.2L1865.7,2219.7L1866.9,2224.9L1868.4,2220.3L1869.9,2225.5L1871.5,2219.8L1873,2225.6L1874.4,2219.6L1875.5,2225.9L1876.7,2220.5L1878.1,2225.5L1879.6,2220.5L1881.1,2226.4L1882.5,2220.7L1883.9,2226.7L1885.1,2221.2L1886.6,2228.3L1887.9,2220.6L1889.4,2227.8L1890.8,2222.2L1892,2228.5L1893.1,2222L1894.3,2229L1895.4,2222.8L1896.8,2229.4L1898.4,2223.4L1899.4,2229.7L1900.8,2223.3L1902,2230.8L1903.4,2223.6L1904.9,2230.5L1906.2,2223.6L1907.7,2231.1L1908.9,2224L1910,2230.7L1911.5,2222.8L1912.8,2230.6L1913.9,2222.9L1915,2231.3L1916.1,2223.7L1917.3,2232.4L1918.9,2223.7L1920.3,2232.1L1921.6,2223.3L1922.7,2231.4L1924.1,2223.8L1925.5,2232.3L1927,2224.3L1928.1,2231.9L1929.6,2223.9L1931.1,2232.9L1932.3,2223.5L1933.7,2232.6L1935.1,2224L1936.3,2232.2L1937.7,2223.3L1938.8,2232.7L1940.1,2224.4L1941.6,2233.4L1942.7,2224L1943.9,2232.8L1945,2223.8L1946.2,2233.6L1947.3,2224L1948.6,2233.6L1949.7,2223.5L1951,2233L1952.1,2223.5L1953.2,2233.8L1954.4,2224.5L1955.9,2233L1957,2225.2L1958.3,2233L1959.3,2223.9L1960.9,2233.4L1962.2,2223.4L1963.4,2233.5L1964.7,2225.3L1966,2235.2L1967.5,2225.3L1968.8,2234.8L1970.1,2225.1L1971.5,2234.3L1972.8,2225.4L1973.9,2236.1L1975.1,2224.6L1976.4,2235.5L1977.5,2223.7L1979,2235.3L1980.2,2225L1981.6,2236.1L1982.9,2224.2L1984.1,2236.4L1985.4,2224.1L1986.8,2237.8L1987.9,2224.5L1989.2,2236L1990.5,2225.2L1991.8,2237.7L1993,2224.7L1994.1,2237.2L1995.7,2223.6L1996.9,2237.4L1998,2223.7L1999.6,2236.9L2000.8,2225.2L2002,2239.1L2003.5,2225.5L2005,2239.4L2006.2,2224.7L2007.3,2239.2L2008.6,2226.4L2009.7,2239.6L2011.2,2226.6L2012.5,2241L2013.6,2226.3L2015.1,2242.7L2016.4,2226L2017.5,2242L2018.7,2228.7L2020,2244.9L2021.4,2227.9L2022.7,2247.9L2023.8,2230.6L2025,2248.5L2026.5,2234.2L2028,2255.2L2029.3,2240.6L2030.3,2260.8L2031.5,2247.4L2032.8,2268.4L2034.2,2257.7L2035.5,2276.3L2036.7,2266.3L2038.2,2285.1L2039.4,2275.7L2040.9,2295.7L2042,2286.2L2043.2,2305.6L2044.2,2295L2045.6,2313.3L2047,2304.8L2048.3,2326.5L2049.6,2316.3L2051.1,2339.6L2052.6,2331.1L2054,2353.4L2055.4,2346.5L2056.9,2369.5L2058.1,2360.3L2059.7,2384.1L2060.8,2375.3L2061.9,2395.2L2063.4,2390.7L2064.7,2412.9L2066.3,2406.7L2067.3,2427L2068.7,2420.2L2070.2,2443.3L2071.5,2437.2L2072.6,2460.7L2074.2,2455.1L2075.5,2475.7L2076.9,2469L2078.4,2492.2L2079.9,2487.7L2081.2,2506.3L2082.5,2500.3L2083.6,2521.1L2085,2513.1L2086.2,2534L2087.3,2525.8L2088.7,2549.8L2089.9,2541.4L2091,2563.2L2092.5,2556.1L2093.7,2578.3L2095.1,2570L2096.3,2591.9L2097.4,2583.8L2098.9,2606.6L2100.2,2597.4L2101.5,2618.6L2102.8,2610.5L2104.3,2632.8L2105.6,2625.5L2107,2648.1L2108.6,2639.3L2109.9,2659.5L2111,2652.6L2112.4,2671.8L2113.4,2660.2L2114.8,2682.2L2116,2672.2L2117.3,2690.7L2118.6,2681L2120,2700.2L2121.5,2692.1L2122.9,2709.7L2123.9,2699.3L2125.3,2718.9L2126.6,2708.3L2127.9,2723.9L2129.2,2715.9L2130.6,2731.8L2132.1,2720.6L2133.5,2734.9L2134.7,2723.3L2135.8,2736.4L2136.9,2725.9L2138.2,2737.1L2139.5,2729.6L2140.6,2737.5L2140.9,2729.1" stroke="#3300FF" stroke-width="3.0" fill="none" stroke-linejoin="bevel" shape-rendering="crispEdges"/>
<path d="M2140.9,2734.3L2142.9,2734.2L2144.9,2734.1L2146.9,2733.9L2148.9,2733.8L2150.9,2733.7L2152.9,2733.6L2154.9,2733.5L2156.9,2733.3L2158.9,2733.2L2160.9,2733.1L2162.9,2733L2164.9,2732.9L2166.9,2732.8L2168.9,2732.6L2170.9,2732.5L2172.9,2732.4L2174.9,2732.3L2176.9,2732.2L2178.9,2732.1L2180.9,2732L2182.9,2731.9L2184.9,2731.8L2186.9,2731.7L2188.9,2731.6L2190.9,2731.5L2192.9,2731.4L2194.9,2731.3L2196.9,2731.2L2198.9,2731.1L2200.9,2731L2202.9,2730.9L2204.9,2730.8L2206.9,2730.7L2208.9,2730.6L2210.9,2730.5L2212.9,2730.4L2214.9,2730.3L2216.9,2730.2L2218.9,2730.1L2220.9,2730L2222.9,2729.9L2224.9,2729.8L2226.9,2729.7L2228.9,2729.6L2230.9,2729.6L2232.9,2729.5L2234.9,2729.4L2236.9,2729.3L2238.9,2729.2L2240.9,2729.1L2242.9,2729.1L2244.9,2729L2246.9,2728.9L2248.9,2728.8L2250.9,2728.7L2252.9,2728.6L2254.9,2728.6L2256.9,2728.5L2258.9,2728.4L2259.3,2728.4" stroke="#3300FF" stroke-width="2.0" fill="none" stroke-linejoin="bevel" shape-rendering="crispEdges"/>
<path d="M416.6,2736.1V2728.4M1664.8,2735.8V2728.4" stroke="#3300FF" stroke-width="2.0" fill="none" shape-rendering="crispEdges"/>
<path d="M268,2292.6L269,2280L270.2,2277.3L271.6,2248.1L272.8,2250.2L274.3,2231.6L275.5,2245.5L277,2230L278.3,2244.5L279.7,2227.5L281.1,2242.8L282.3,2228.4L283.5,2243L284.6,2226.6L286,2243.9L287.4,2226.9L288.6,2242.5L289.8,2229L291.3,2243.8L292.7,2227.4L294,2243.3L295,2227.1L296.3,2241.9L297.8,2227.7L298.9,2242.4L300.1,2227.7L301.1,2243L302.5,2227.2L303.7,2244L304.8,2229.2L305.9,2242.2L307.4,2228.3L308.9,2244.1L310.3,2226.1L311.7,2243.9L313.2,2227.2L314.4,2243.9L315.5,2226.7L316.6,2244.8L318,2226.2L319.3,2243L320.6,2227.8L321.7,2244.5L322.9,2228.6L324.1,2244L325.3,2228.3L326.7,2242.8L327.8,2226.7L329.1,2244L330.1,2226.1L331.3,2243.6L332.4,2228.2L333.8,2243.5L335.4,2228.9L336.9,2244.8L338.1,2226.3L339.3,2244.1L340.5,2227.6L341.9,2244.6L343.1,2229.1L344.3,2244.3L345.5,2227.8L346.8,2243.2L348.3,2228L349.6,2244.7L350.7,2228L352.1,2244L353.4,2227.9L354.9,2244.8L356.1,2227.9L357.1,2242.2L358.3,2228.1L359.7,2242.3L361,2226.5L362.1,2242.6L363.3,2227.4L364.9,2242.6L366.1,2227.3L367.6,2245L369.1,2228.8L370.3,2242.1L371.4,2228L372.6,2244L374.2,2228.9L375.7,2244.3L376.8,2227L377.9,2242.2L379.3,2228.9L380.7,2243.4L382.1,2228.3L383.4,2242.3L384.9,2226.7L386.2,2244.2L387.2,2227.2L388.4,2245.3L389.5,2229.3L391,2244.4L392.4,2229.1L393.6,2244.5L394.7,2226.7L396.1,2242.5L397.4,2228L398.8,2244L400.3,2226.8L401.6,2242.8L403.2,2228.3L404.5,2245L405.7,2229.3L407.1,2244.7L408.2,2228.4L409.6,2244.1L411.1,2227.8L412.2,2244.8L413.5,2228.5L414.6,2243.1L415.7,2228.9L417,2242.6L418.1,2227.1L419.3,2244.9L420.3,2228.4L421.4,2244.1L422.7,2226.9L424,2245.2L425.1,2227.5L426.1,2243.5L427.7,2228.7L428.7,2245.7L429.8,2227.5L430.9,2244.5L432.4,2229.1L433.9,2244.8L435,2228.9L436.2,2245.2L437.7,2229.4L439.2,2245.5L440.3,2229.2L441.5,2246.6L442.9,2232.1L444,2246.5L445.3,2231.6L446.5,2250.8L448,2234.4L449.1,2250.4L450.2,2235.2L451.6,2252.5L453,2236.9L454.2,2258.5L455.6,2242.3L456.8,2261.1L458,2245.6L459,2263.3L460.4,2248.2L461.9,2266.1L463.1,2251.5L464.5,2271.2L466,2256L467.3,2273.6L468.4,2257.2L469.5,2276L471.1,2263.6L472.4,2281.4L473.5,2264L474.6,2283.6L475.8,2269.4L477.1,2290.1L478.5,2274.6L480,2292.8L481.3,2280.2L482.8,2299L484.1,2283.9L485.7,2304.8L486.7,2291.2L487.9,2306.7L488.9,2292.9L490.2,2313.5L491.3,2300.4L492.9,2316.8L494.4,2307.4L495.7,2323.7L497,2311.5L498.1,2330.2L499.3,2317.7L500.3,2333L501.7,2322.5L503.2,2341.5L504.4,2329.5L505.7,2345.9L507,2334.6L508.1,2353.9L509.6,2341.2L511,2361.5L512.3,2349.1L513.7,2368L515,2357.1L516.5,2375.9L517.9,2366.2L519.2,2383.6L520.7,2373.9L521.7,2391.9L523.2,2381.2L524.6,2399.7L525.9,2390.6L526.9,2408.2L528.4,2397L529.7,2415.7L531.2,2406.8L532.3,2422.5L533.9,2413.7L535.3,2431.9L536.8,2421.5L538,2442.2L539.6,2430L540.8,2450.3L542.3,2438.9L543.5,2457.7L544.8,2447.5L545.9,2464L547.2,2453.5L548.8,2473.1L550,2461.8L551.5,2481L552.7,2470.2L554.2,2489.1L555.4,2478.9L556.5,2494.4L557.9,2484.8L559.3,2503.3L560.5,2495.2L561.6,2513.1L563.1,2502.5L564.5,2522.6L566,2514.8L567.2,2534L568.2,2522.2L569.4,2541.4L570.6,2532.1L572.1,2551.1L573.3,2540.3L574.8,2560.3L576.1,2549.3L577.6,2569.6L579,2560.5L580.1,2579L581.2,2566.6L582.4,2583.7L583.6,2574.3L584.7,2593.6L585.9,2580.3L587.3,2601.7L588.6,2591.5L589.7,2606.8L590.8,2598.6L592,2615.5L593.4,2606.6L594.6,2625.1L595.7,2613L596.8,2630.2L598.3,2621.8L599.6,2640.2L600.7,2629.7L601.9,2649.6L603.4,2636.7L604.5,2655.2L605.7,2645.7L607,2662.8L608.2,2652.1L609.3,2667.5L610.6,2655.5L612,2674.2L613.2,2664.2L614.7,2679.8L616.2,2669.4L617.4,2687.6L618.5,2674.6L619.6,2693.5L620.8,2679.7L622.4,2699L623.8,2685.7L625.1,2703.1L626.5,2691.7L628,2708.8L629.5,2697.7L630.8,2713.4L632,2700.6L633.3,2717L634.5,2704.7L635.8,2720.3L636.8,2708.3L638.2,2723.6L639.7,2713.5L640.8,2727L642.3,2717L643.3,2732L644.5,2719.5L645.9,2733.3L647.4,2722.3L648.7,2736.4L650,2723.6L651.2,2736.6L652.5,2725.3L653.8,2736.2L655.3,2726.7L656.7,2737.2L657.9,2728.1L658.7,2737.5" stroke="#008000" stroke-width="3.0" fill="none" stroke-linejoin="bevel" shape-rendering="crispEdges"/>
<path d="M658.7,2735.2L660.7,2735.1L662.7,2735L664.7,2734.9L666.7,2734.8L668.7,2734.7L670.7,2734.6L672.7,2734.5L674.7,2734.4L676.7,2734.3L678.7,2734.2L680.7,2734.1L682.7,2734L684.7,2733.9L686.7,2733.8L688.7,2733.7L690.7,2733.6L692.7,2733.4L694.7,2733.3L696.7,2733.2L698.7,2733.1L700.7,2733L702.7,2732.8L704.7,2732.7L706.7,2732.5L708.7,2732.4L710.7,2732.2L712.7,2732.1L714.7,2731.9L716.7,2731.7L718.7,2731.6L720.7,2731.4L722.7,2731.2L724.7,2731L726.7,2730.8L728.7,2730.7L730.7,2730.5L732.7,2730.3L734.7,2730.1L736.7,2729.9L738.7,2729.7L740.7,2729.6L742.7,2729.4L744.7,2729.2L746.7,2729L748.7,2728.9L750.7,2728.7L752.7,2728.6L754.7,2728.4L756.7,2728.3L758.7,2728.1L760.7,2728L762.7,2727.9L764.7,2727.8L766.7,2727.7L768.7,2727.6L770.7,2727.5L772.7,2727.4L774.7,2727.3L776.7,2727.2L778.7,2727.2L780.7,2727.1L782.7,2727L784.7,2726.9L786.7,2726.9L788.7,2726.8L790.7,2726.7L792.7,2726.7L794.7,2726.6L796.7,2726.5L798.7,2726.5L800.7,2726.4L802.7,2726.4L804.7,2726.3L806.7,2726.2L808.7,2726.2L810.7,2726.1L812.7,2726.1L814.7,2726L816.7,2726L818.7,2725.9L820.7,2725.9L822.7,2725.8L824.7,2725.8L826.7,2725.7L828.7,2725.7L830.7,2725.6L832.7,2725.6L834.7,2725.5L836.7,2725.5L838.7,2725.4L840.7,2725.4L842.7,2725.3L844.7,2725.3L846.7,2725.3L848.7,2725.2L850.7,2725.2L852.7,2725.1L854.7,2725.1L856.7,2725L858.7,2725L860.7,2724.9L862.7,2724.9L864.7,2724.9L866.7,2724.8L868.7,2724.8L870.7,2724.7L872.7,2724.7L874.7,2724.6L876.7,2724.6L878.7,2724.5L880.7,2724.5L882.7,2724.4L884.7,2724.4L886.7,2724.3L888.7,2724.3L890.7,2724.2L892.7,2724.2L894.7,2724.1L896.7,2724L898.7,2724L900.7,2723.9L902.7,2723.9L904.7,2723.8L906.7,2723.7L908.7,2723.7L910.7,2723.6L912.7,2723.6L914.7,2723.5L916.7,2723.4L918.7,2723.4L920.7,2723.3L922.7,2723.3L924.7,2723.2L926.7,2723.2L928.7,2723.2L930.7,2723.1L932.7,2723.1L934.7,2723L936.7,2723L938.7,2723L940.7,2723L942.7,2722.9L944.7,2722.9L946.7,2722.9L948.7,2722.9L950.7,2722.9L952.7,2722.9L954.7,2722.9L956.7,2722.9L958.7,2722.9L960.7,2722.9L962.7,2722.9L964.7,2722.9L966.7,2722.9L968.7,2722.9L970.7,2722.9L972.7,2722.9L974.7,2722.9L976.7,2722.9L978.7,2722.9L980.7,2722.9L982.7,2722.9L984.7,2722.9L986.7,2722.9L988.7,2722.9L990.7,2722.9L992.7,2722.9L994.7,2722.9L996.7,2722.9L998.7,2722.9L1000.7,2722.9L1002.7,2722.9L1004.7,2722.9L1006.7,2722.9L1008.7,2722.9L1010.7,2722.9L1012.7,2722.9L1014.7,2722.9L1016.7,2722.9L1018.7,2722.9L1020.7,2722.9L1022.7,2722.9L1024.7,2722.9L1026.7,2722.9L1028.7,2722.9L1030.7,2722.9L1032.7,2722.9L1034.7,2722.9L1036.7,2722.9L1038.7,2722.9L1040.7,2722.9L1042.7,2722.9L1044.7,2722.9L1046.7,2722.9L1048.7,2722.9L1050.7,2722.9L1052.7,2723L1054.7,2723L1056.7,2723L1058.7,2723L1060.7,2723.1L1062.7,2723.1L1064.7,2723.2L1066.7,2723.2L1068.7,2723.2L1070.7,2723.3L1072.7,2723.4L1074.7,2723.4L1076.7,2723.5L1078.7,2723.5L1080.7,2723.6L1082.7,2723.7L1084.7,2723.7L1086.7,2723.8L1088.7,2723.8L1090.7,2723.9L1092.7,2724L1094.7,2724L1096.7,2724.1L1098.7,2724.2L1100.7,2724.2L1102.7,2724.3L1104.7,2724.4L1106.7,2724.4L1108.7,2724.5L1110.7,2724.6L1112.7,2724.6L1114.7,2724.7L1116.7,2724.8L1118.7,2724.9L1120.7,2724.9L1122.7,2725L1124.7,2725.1L1126.7,2725.2L1128.7,2725.3L1130.7,2725.3L1132.7,2725.4L1134.7,2725.5L1136.7,2725.6L1138.7,2725.7L1140.7,2725.8L1142.7,2725.9L1144.7,2726L1146.7,2726.1L1148.7,2726.2L1150.7,2726.3L1152.7,2726.4L1154.7,2726.5L1156.7,2726.6L1158.7,2726.7L1160.7,2726.8L1162.7,2726.9L1164.7,2727L1166.7,2727.1L1168.7,2727.2L1170.7,2727.3L1172.7,2727.4L1174.7,2727.5L1176.7,2727.6L1178.7,2727.7L1180.7,2727.8L1182.7,2727.9L1184.7,2728L1186.7,2728.1L1188.7,2728.2L1190.7,2728.3L1192.7,2728.4L1194.7,2728.6L1196.7,2728.7L1198.7,2728.8L1200.7,2728.9L1202.7,2729L1204.7,2729.1L1206.7,2729.2L1208.7,2729.3L1210.7,2729.4L1212.7,2729.5L1214.7,2729.7L1216.7,2729.8L1218.7,2729.9L1220.7,2730L1222.7,2730.1L1224.7,2730.2L1226.7,2730.4L1228.7,2730.5L1230.7,2730.6L1232.7,2730.7L1234.7,2730.8L1236.7,2731L1238.7,2731.1L1240.7,2731.2L1242.7,2731.3L1244.7,2731.4L1246.7,2731.6L1248.7,2731.7L1250.7,2731.8L1252.7,2731.9L1254.7,2732.1L1256.7,2732.2L1258.7,2732.3L1260.7,2732.5L1262.7,2732.6L1264.7,2732.7L1266.7,2732.8L1268.7,2733L1270.7,2733.1L1272.7,2733.2L1274.7,2733.4L1276.7,2733.5L1278.7,2733.6L1280.7,2733.7L1282.7,2733.9L1284.7,2734L1286.7,2734.1L1288.7,2734.3L1290.7,2734.4L1292.7,2734.6L1294.7,2734.7L1296.7,2734.8L1298.7,2735L1300.7,2735.1L1302.7,2735.3L1304.7,2735.4L1306.7,2735.6L1308.7,2735.7L1310.1,2735.8" stroke="#008000" stroke-width="2.0" fill="none" stroke-linejoin="bevel" shape-rendering="crispEdges"/>
<path d="M1310.1,2728.7L1311.5,2727.9L1313,2728.1L1314.2,2726.8L1315.3,2726.8L1316.7,2725.1L1318.2,2724.4L1319.7,2722.3L1321.1,2721.6L1322.5,2719.3L1323.8,2718.3L1325.1,2715.1L1326.1,2713.4L1327.2,2710.2L1328.5,2707.2L1329.6,2703.5L1330.8,2701L1332.2,2696.5L1333.7,2692.8L1334.8,2688.9L1336,2685.7L1337.3,2680.7L1338.4,2677.6L1339.5,2672.6L1340.8,2668.5L1342.3,2661.6L1343.8,2655.7L1345.2,2648.6L1346.6,2642.3L1348.2,2634.1L1349.6,2627.3L1351.1,2619.6L1352.2,2614.3L1353.6,2606.5L1355.1,2599.3L1356.3,2591.9L1357.6,2585.7L1359,2577.1L1360.4,2570.1L1361.7,2562.2L1362.9,2555.9L1364.5,2546.6L1365.9,2539.1L1367,2531.8L1368.6,2523.6L1370,2514.4L1371.3,2506.9L1372.4,2499.7L1373.9,2491.4L1375.2,2482.7L1376.5,2476.1L1377.9,2467.2L1379.1,2461.2L1380.6,2452L1381.9,2445.5L1383.5,2436.7L1384.8,2430.4L1385.9,2424L1387.3,2417.4L1388.5,2410.5L1389.7,2405.4L1391,2397.9L1392.2,2392.3L1393.5,2385.3L1394.7,2380.4L1396.1,2372.9L1397.4,2367L1398.5,2361.1L1399.9,2355.3L1401.1,2348.8L1402.5,2343.1L1403.6,2337.1L1405.1,2330.8L1406.2,2325.4L1407.4,2320.7L1408.6,2314.5L1409.8,2310L1411.2,2303.3L1412.3,2299.2L1413.6,2293.4L1414.7,2289.6L1415.9,2284L1417.4,2279.2L1418.8,2273.2L1420.4,2268.4L1421.7,2262.9L1423.2,2259L1424.4,2254.8L1425.5,2252.2L1426.5,2248.5L1427.8,2245.4L1429.4,2240.7L1430.7,2238.1L1431.9,2234.7L1433.5,2232.8L1434.6,2230.5L1435.8,2229.5L1437.2,2226.9L1438.6,2226L1439.7,2224.1L1440.8,2223.9L1441.9,2222.6L1443.1,2222.9L1444.4,2221.7L1446,2221.8L1447.5,2220.7L1448.8,2221L1449.9,2220.2L1451,2220.7L1452.2,2219.8L1453.3,2220.5L1454.5,2219.7L1455.9,2220.4L1457.2,2219.5L1458.4,2220.5L1459.9,2219.6L1461.3,2220.5L1462.6,2219.5L1463.7,2220.7L1465.2,2219.4L1466.7,2220.7L1468.1,2219.6L1469.6,2220.8L1471,2219.5L1472.5,2221.2L1474,2219.4L1475.5,2221L1476.6,2219.6L1478,2221.5L1479.5,2219.5L1480.7,2221.4L1481.9,2219.6L1483.1,2221.5L1484.5,2219.7L1485.9,2221.8L1487.1,2219.6L1488.4,2222L1489.7,2220.1L1490.9,2222.1L1492.4,2220.2L1493.9,2222.5L1495.2,2219.9L1496.7,2222.8L1497.7,2219.9L1499,2223L1500.3,2220L1501.3,2223L1502.8,2220.4L1504.3,2223.1L1505.6,2220.6L1507,2223.4L1508.4,2220.7L1509.7,2223.9L1510.8,2220.6L1512.2,2224.2L1513.6,2220.9L1515,2224.4L1516.4,2221L1517.9,2224.3L1519.2,2220.8L1520.4,2224.7L1521.5,2220.5L1522.7,2225.3L1524.2,2221.2L1525.6,2225.5L1526.9,2221.4L1527.9,2225.9L1529.3,2221.6L1530.3,2226.4L1531.5,2221.8L1532.8,2227.1L1534.3,2221.6L1535.7,2227.6L1537.2,2222.6L1538.5,2227.7L1539.7,2222L1541.3,2228.4L1542.6,2223.1L1543.8,2229.4L1545,2222.3L1546.6,2229.7L1547.7,2223.7L1549.2,2230.3L1550.6,2223.6L1551.8,2230.4L1552.9,2223.4L1554,2229.7L1555.5,2223L1556.9,2230.2L1558,2224.3L1559.1,2230.3L1560.2,2224.1L1561.3,2231L1562.7,2223.2L1563.9,2231.5L1565.3,2223.4L1566.7,2231.8L1568.2,2224.8L1569.6,2232.1L1571.2,2224.1L1572.4,2231.6L1573.8,2224.6L1575,2232.5L1576.4,2224.6L1577.8,2231.5L1579.3,2224.6L1580.5,2233.3L1581.7,2225.1L1583.2,2233.1L1584.4,2224.4L1585.9,2233L1587.1,2225.2L1588.4,2232.9L1589.9,2225.1L1591.4,2232.9L1592.4,2225.7L1593.9,2233.2L1595.4,2225.2L1596.5,2233.2L1597.9,2224.9L1599.1,2233.6L1600.4,2224.3L1601.5,2233.3L1602.6,2224.3L1603.8,2234.3L1604.8,2224.5L1605.9,2233.5L1607.2,2224.8L1608.6,2234.7L1610.1,2224.5L1611.6,2233.8L1612.8,2225.6L1614.1,2234.7L1615.2,2224.6L1616.6,2234.1L1617.7,2223.7L1619.2,2233.4L1620.4,2224.5L1621.6,2234.7L1622.8,2224.9L1624,2234.3L1625.5,2224.2L1626.6,2234.5L1627.7,2224.8L1629.1,2235.5L1630.5,2223.1L1632.1,2234.3L1633.1,2223.1L1634.6,2233.9L1635.8,2224.4L1637.2,2234.4L1638.3,2222.7L1639.4,2235.8L1641,2223.9L1642.2,2234.1L1643.4,2223L1644.6,2234.3L1646,2222.8L1647.2,2235.8L1648.4,2223.7L1649.7,2234.7L1651.2,2223.1L1652.6,2236.5L1654,2224.4L1655.1,2234.5L1656.2,2224.2L1657.6,2236.1L1658.8,2222.1L1659.9,2236L1661.4,2222.1L1662.9,2237.5L1664.3,2222.2L1665.4,2237.9L1666.6,2222.1L1668.2,2240.7L1669.6,2224.8L1670.8,2240.8L1671.8,2226L1673.3,2242L1674.6,2224.8L1675.8,2247L1677.1,2229.6L1678.6,2251.7L1680,2236.7L1681.5,2254.9L1682.8,2240.9L1684.3,2262.7L1685.4,2251.6L1686.9,2272.7L1688.4,2261.4L1689.9,2281.5L1691.2,2272.3L1692.6,2290.7L1694.1,2283.6L1695.5,2302.1L1697,2294.2L1698.3,2317.4L1699.6,2307.6L1701.2,2328.2L1702.2,2318.9L1703.4,2341L1704.8,2331.1L1706.2,2354.3L1707.6,2346.2L1709,2367.5L1710.1,2360.8L1711.5,2382.2L1712.7,2374.6L1713.9,2393.9L1714.9,2387.1L1716.3,2408.1L1717.5,2401.3L1718.8,2422.4L1720.2,2413.6L1721.2,2433.2L1722.4,2425.7L1723.7,2448.1L1724.8,2440.3L1725.9,2459.1L1727,2449.6L1728.5,2471.9L1730,2466.2L1731.3,2488.2L1732.4,2478.9L1733.6,2499.9L1734.7,2492.7L1735.8,2512.4L1736.9,2502L1738.4,2525.6L1739.5,2516.7L1741.1,2540.4L1742.3,2531.8L1743.6,2555.2L1744.6,2544.2L1745.8,2568.1L1747,2558.9L1748.1,2580.1L1749.4,2573.6L1750.6,2593.1L1752.1,2586.9L1753.5,2609.7L1754.7,2600.6L1756.2,2622.9L1757.3,2614.3L1758.4,2633.9L1759.6,2624.4L1760.9,2643.1L1762.1,2634.9L1763.6,2656.2L1765.1,2648.8L1766.3,2669.7L1767.4,2657.8L1768.5,2678.7L1769.8,2667.8L1770.9,2686.4L1772.2,2680L1773.3,2696.2L1774.8,2688.8L1776.2,2706.8L1777.6,2695.6L1778.8,2713.8L1780,2700.5L1781.1,2720.2L1782.3,2706.9L1783.8,2726.2L1784.8,2714.6L1786.2,2729L1787.7,2718.7L1789.1,2735.1L1790.2,2724.3L1791.7,2737.6L1793.1,2728.1L1794.6,2737.1L1795.4,2730.3" stroke="#008000" stroke-width="3.0" fill="none" stroke-linejoin="bevel" shape-rendering="crispEdges"/>
<path d="M1795.4,2734.6L1797.4,2734.5L1799.4,2734.4L1801.4,2734.3L1803.4,2734.2L1805.4,2734L1807.4,2733.9L1809.4,2733.8L1811.4,2733.7L1813.4,2733.6L1815.4,2733.5L1817.4,2733.4L1819.4,2733.3L1821.4,2733.2L1823.4,2733L1825.4,2732.9L1827.4,2732.8L1829.4,2732.7L1831.4,2732.6L1833.4,2732.5L1835.4,2732.4L1837.4,2732.3L1839.4,2732.2L1841.4,2732.1L1843.4,2732L1845.4,2731.9L1847.4,2731.7L1849.4,2731.6L1851.4,2731.5L1853.4,2731.4L1855.4,2731.3L1857.4,2731.2L1859.4,2731.1L1861.4,2731L1863.4,2730.9L1865.4,2730.8L1867.4,2730.7L1869.4,2730.6L1871.4,2730.5L1873.4,2730.4L1875.4,2730.3L1877.4,2730.2L1879.4,2730.1L1881.4,2730L1883.4,2729.9L1885.4,2729.7L1887.4,2729.6L1889.4,2729.5L1891.4,2729.4L1893.4,2729.3L1895.4,2729.2L1897.4,2729.1L1899.4,2729L1901.4,2728.9L1903.4,2728.8L1905.4,2728.7L1907.4,2728.6L1909.4,2728.5L1911.4,2728.4L1913.4,2728.3L1915.4,2728.1L1917.4,2728L1919.4,2727.9L1921.4,2727.8L1923.4,2727.7L1925.4,2727.5L1927.4,2727.4L1929.4,2727.3L1931.4,2727.2L1933.4,2727L1935.4,2726.9L1937.4,2726.8L1939.4,2726.6L1941.4,2726.5L1943.4,2726.4L1945.4,2726.3L1947.4,2726.1L1949.4,2726L1951.4,2725.9L1953.4,2725.8L1955.4,2725.6L1957.4,2725.5L1959.4,2725.4L1961.4,2725.3L1963.4,2725.1L1965.4,2725L1967.4,2724.9L1969.4,2724.8L1971.4,2724.7L1973.4,2724.6L1975.4,2724.5L1977.4,2724.4L1979.4,2724.3L1981.4,2724.2L1983.4,2724.1L1985.4,2724L1987.4,2723.9L1989.4,2723.8L1991.4,2723.7L1993.4,2723.6L1995.4,2723.5L1997.4,2723.5L1999.4,2723.4L2001.4,2723.3L2003.4,2723.3L2005.4,2723.2L2007.4,2723.2L2009.4,2723.1L2011.4,2723.1L2013.4,2723L2015.4,2723L2017.4,2723L2019.4,2722.9L2021.4,2722.9L2023.4,2722.9L2025.4,2722.9L2027.4,2722.9L2029.4,2722.9L2031.4,2722.9L2033.4,2722.9L2035.4,2722.9L2037.4,2722.9L2039.4,2722.9L2041.4,2722.9L2043.4,2722.9L2045.4,2722.9L2047.4,2722.9L2049.4,2722.9L2051.4,2722.9L2053.4,2722.9L2055.4,2722.9L2057.4,2722.9L2059.4,2722.9L2061.4,2722.9L2063.4,2722.9L2065.4,2722.9L2067.4,2722.9L2069.4,2722.9L2071.4,2722.9L2073.4,2722.9L2075.4,2722.9L2077.4,2722.9L2079.4,2722.9L2081.4,2722.9L2083.4,2722.9L2085.4,2722.9L2087.4,2722.9L2089.4,2722.9L2091.4,2722.9L2093.4,2722.9L2095.4,2722.9L2097.4,2722.9L2099.4,2722.9L2101.4,2722.9L2103.4,2722.9L2105.4,2722.9L2107.4,2722.9L2109.4,2722.9L2111.4,2722.9L2113.4,2722.9L2115.4,2722.9L2117.4,2722.9L2119.4,2722.9L2121.4,2723L2123.4,2723L2125.4,2723L2127.4,2723.1L2129.4,2723.1L2131.4,2723.2L2133.4,2723.2L2135.4,2723.3L2137.4,2723.3L2139.4,2723.4L2141.4,2723.5L2143.4,2723.5L2145.4,2723.6L2147.4,2723.7L2149.4,2723.8L2151.4,2723.8L2153.4,2723.9L2155.4,2724L2157.4,2724.1L2159.4,2724.2L2161.4,2724.3L2163.4,2724.3L2165.4,2724.4L2167.4,2724.5L2169.4,2724.6L2171.4,2724.7L2173.4,2724.7L2175.4,2724.8L2177.4,2724.9L2179.4,2725L2181.4,2725.1L2183.4,2725.1L2185.4,2725.2L2187.4,2725.3L2189.4,2725.3L2191.4,2725.4L2193.4,2725.5L2195.4,2725.6L2197.4,2725.7L2199.4,2725.7L2201.4,2725.8L2203.4,2725.9L2205.4,2726L2207.4,2726.1L2209.4,2726.1L2211.4,2726.2L2213.4,2726.3L2215.4,2726.4L2217.4,2726.5L2219.4,2726.6L2221.4,2726.6L2223.4,2726.7L2225.4,2726.8L2227.4,2726.9L2229.4,2727L2231.4,2727.1L2233.4,2727.2L2235.4,2727.3L2237.4,2727.4L2239.4,2727.5L2241.4,2727.5L2243.4,2727.6L2245.4,2727.7L2247.4,2727.8L2249.4,2727.9L2251.4,2728L2253.4,2728.1L2255.4,2728.2L2257.4,2728.3L2259.3,2728.4" stroke="#008000" stroke-width="2.0" fill="none" stroke-linejoin="bevel" shape-rendering="crispEdges"/>
<path d="M267.6,2734V2280M1310.1,2735.8V2728.4" stroke="#008000" stroke-width="2.0" fill="none" shape-rendering="crispEdges"/>
<path d="M267,2723.2L269,2723.2L271,2723.2L273,2723.2L275,2723.2L277,2723.2L279,2723.2L281,2723.2L283,2723.2L285,2723.2L287,2723.2L289,2723.2L291,2723.2L293,2723.2L295,2723.2L297,2723.2L299,2723.2L301,2723.2L303,2723.2L305,2723.2L307,2723.2L309,2723.2L311,2723.2L313,2723.2L315,2723.2L317,2723.2L319,2723.2L321,2723.2L323,2723.2L325,2723.2L327,2723.2L329,2723.2L331,2723.2L333,2723.2L335,2723.2L337,2723.2L339,2723.2L341,2723.2L343,2723.2L345,2723.2L347,2723.2L349,2723.2L351,2723.2L353,2723.2L355,2723.2L357,2723.2L359,2723.2L361,2723.2L363,2723.2L365,2723.2L367,2723.2L369,2723.2L371,2723.2L373,2723.2L375,2723.2L377,2723.2L379,2723.2L381,2723.2L383,2723.2L385,2723.2L387,2723.2L389,2723.2L391,2723.2L393,2723.2L395,2723.2L397,2723.2L399,2723.2L401,2723.2L403,2723.2L405,2723.2L407,2723.2L409,2723.2L411,2723.2L413,2723.2L415,2723.2L417,2723.2L419,2723.2L421,2723.2L423,2723.2L425,2723.2L427,2723.2L429,2723.2L431,2723.2L433,2723.2L435,2723.2L437,2723.2L439,2723.2L441,2723.2L443,2723.2L445,2723.2L447,2723.2L449,2723.2L451,2723.1L453,2722.4L455,2722L457,2722L459,2722L461,2722L463,2722L465,2722L467,2722L469,2722L471,2722L473,2722L475,2722L477,2722L479,2722L481,2722L483,2722L485,2722L487,2722L489,2722L491,2722L493,2722L495,2722L497,2722L499,2722L501,2722L503,2722L505,2722L507,2722L509,2722L511,2722L513,2722L515,2722L517,2722L519,2722L521,2722L523,2722L525,2722L527,2722L529,2722L531,2722L533,2722L535,2722L537,2722L539,2722L541,2722L543,2722L545,2722L547,2722L549,2722L551,2722L553,2722L555,2722L557,2722L559,2722L561,2722L563,2722L565,2722L567,2722L569,2722L571,2722L573,2722L575,2722L577,2722L579,2722L581,2722L583,2722L585,2722L587,2722L589,2722L591,2722L593,2722L595,2722L597,2722L599,2722L601,2722L603,2722L605,2722L607,2722L609,2722L611,2722L613,2722L615,2722L617,2722L619,2722L621,2722L623,2722L625,2722L627,2722L629,2722L631,2722L633,2722.3L635,2722.6L637,2722.9L639,2723.2L641,2723.2L643,2723.2L645,2723.2L647,2723.2L649,2723.2L651,2723.2L653,2723.2L655,2723.2L657,2723.2L659,2723.2L661,2723.2L663,2723.2L665,2723.2L667,2723.2L669,2723.2L671,2723.2L673,2723.2L675,2723.2L677,2723.2L679,2723.2L681,2723.2L683,2723.2L685,2723.2L687,2723.2L689,2723.2L691,2723.3L693,2723.6L695,2724.2L697,2724.8L699,2725.2L701,2725.3L703,2725.4L705,2725.5L707,2725.6L709,2725.6L711,2725.7L713,2725.7L715,2725.8L717,2725.8L719,2725.9L721,2725.9L723,2725.9L725,2726L727,2726L729,2726L731,2726.1L733,2726.1L735,2726.1L737,2726.1L739,2726.1L741,2726.2L743,2726.2L745,2726.2L747,2726.2L749,2726.2L751,2726.3L753,2726.3L755,2726.3L757,2726.3L759,2726.4L761,2726.4L763,2726.4L765,2726.5L767,2726.5L769,2726.6L771,2726.6L773,2726.7L775,2726.7L777,2726.8L779,2726.9L781,2726.9L783,2727L785,2727L787,2727.1L789,2727.2L791,2727.3L793,2727.3L795,2727.4L797,2727.5L799,2727.6L801,2727.6L803,2727.7L805,2727.8L807,2727.9L809,2728L811,2728.1L813,2728.2L815,2728.3L817,2728.3L819,2728.4L821,2728.5L823,2728.6L825,2728.7L827,2728.8L829,2728.9L831,2729L833,2729.1L835,2729.2L837,2729.3L839,2729.4L841,2729.5L843,2729.6L845,2729.7L847,2729.8L849,2729.9L851,2730.1L853,2730.2L855,2730.3L857,2730.4L859,2730.5L861,2730.6L863,2730.7L865,2730.8L867,2731L869,2731.1L871,2731.2L873,2731.3L875,2731.5L877,2731.6L879,2731.7L881,2731.9L883,2732L885,2732.1L887,2732.3L889,2732.4L891,2732.6L893,2732.7L895,2732.8L897,2733L899,2733.1L901,2733.3L903,2733.4L905,2733.6L907,2733.7L909,2733.9L911,2734L913,2734.2L915,2734.4L917,2734.5L919,2734.7L921,2734.8L923,2735L925,2735.2L927,2735.3L929,2735.5L931,2735.7L932.7,2735.8" stroke="#FF2020" stroke-width="2.0" fill="none" stroke-linejoin="bevel" shape-rendering="crispEdges"/>
<path d="M932.7,2728.8L934,2727.9L935.1,2728.3L936.5,2727L938,2726.7L939.2,2725.1L940.3,2724.9L941.3,2723.2L942.9,2722.4L944.3,2720.3L945.8,2719.2L947.2,2716.5L948.4,2715L949.7,2711.7L951.2,2709.1L952.5,2705.2L953.6,2703.2L954.7,2700L955.8,2698L956.9,2694.5L958.3,2691L959.6,2686.4L960.7,2683.4L962,2678.5L963.3,2674.9L964.5,2670L965.9,2665.5L967.4,2658.8L968.8,2653.7L969.9,2648.3L971,2644.1L972.2,2638L973.7,2632L975,2625.1L976.5,2619.2L977.7,2612.7L979.1,2606.6L980.2,2600.4L981.7,2593.4L983,2586.3L984.5,2579.2L985.8,2571.8L987.2,2565.3L988.7,2557.2L990.2,2550.1L991.6,2542.3L992.8,2536.8L994.1,2529.7L995.6,2522.8L996.8,2516.1L998.1,2510.4L999.6,2502.9L1000.9,2497.6L1002.3,2490.8L1003.7,2485.1L1004.9,2478.7L1006.2,2473.1L1007.6,2465.5L1009.1,2458.4L1010.4,2450.7L1011.9,2442.8L1013,2436.3L1014.2,2430.4L1015.6,2422.1L1017.2,2415.2L1018.4,2408.5L1019.8,2402.8L1020.9,2397.5L1022,2392.8L1023.6,2385L1024.9,2379.6L1026.4,2371.7L1027.5,2366.9L1028.7,2360.5L1029.8,2356.1L1030.8,2350.1L1031.9,2345.4L1033.2,2338.4L1034.3,2334L1035.4,2328.2L1036.6,2323.5L1037.9,2317.2L1039.2,2312.4L1040.5,2306.5L1041.9,2301.6L1043.1,2295.9L1044.2,2292.6L1045.6,2287L1046.6,2283.8L1048.1,2278L1049.6,2274.1L1050.8,2269.6L1052.1,2266.8L1053.6,2261.7L1055.1,2258.5L1056.3,2254.7L1057.5,2252.2L1058.8,2248.6L1059.9,2246.8L1061.3,2243.3L1062.7,2241.2L1064,2238.2L1065.1,2236.9L1066.7,2233.5L1067.9,2232.2L1069,2230L1070.4,2229.2L1071.7,2227.2L1073.1,2226.9L1074.3,2225.4L1075.6,2225.2L1076.6,2223.7L1078.1,2223.6L1079.2,2222.4L1080.3,2222.7L1081.6,2221.5L1082.7,2222L1083.8,2221.2L1085,2221.9L1086.4,2221.2L1087.4,2222.1L1089,2221.2L1090.2,2222.2L1091.3,2221.2L1092.5,2222.2L1093.9,2221L1095.4,2222.4L1096.5,2221.2L1097.8,2222.4L1098.9,2221.2L1100.2,2222.5L1101.8,2221.2L1103.3,2222.9L1104.4,2221.1L1105.7,2222.8L1107,2221.2L1108.2,2223.2L1109.6,2221.4L1110.9,2223.4L1112.3,2221.6L1113.5,2223.3L1114.7,2221.4L1115.9,2223.8L1117.2,2221.5L1118.6,2223.6L1120,2221.6L1121.3,2223.8L1122.6,2221.5L1123.8,2224.1L1125.3,2222L1126.6,2224.4L1127.7,2221.8L1129.2,2224.5L1130.5,2222L1131.7,2224.7L1132.9,2221.9L1134.3,2225.1L1135.7,2222.1L1136.8,2225.1L1138.1,2222.2L1139.3,2225.3L1140.7,2222.1L1141.9,2225.3L1143.1,2222L1144.2,2226.2L1145.3,2221.7L1146.7,2226L1148,2222.1L1149.2,2226.1L1150.5,2222.3L1151.9,2226.7L1153.4,2221.8L1154.6,2226.9L1155.8,2222.7L1157.3,2226.7L1158.5,2222L1160,2227.3L1161.6,2222.3L1163.1,2227.7L1164.5,2222.3L1165.9,2228.6L1167,2222.7L1168.1,2227.7L1169.4,2222.4L1170.9,2228.7L1172.3,2222.4L1173.7,2228.3L1174.8,2222.3L1175.9,2228.8L1177.4,2223L1178.7,2228.8L1180,2223.4L1181.4,2229.2L1183,2222.9L1184.4,2229.6L1186,2222.6L1187.5,2230.5L1189,2223.3L1190.4,2230L1191.5,2223.7L1193,2231.2L1194.1,2222.7L1195.5,2230.7L1196.7,2224L1198.1,2231.6L1199.2,2222.7L1200.5,2230.8L1201.6,2224.2L1203.1,2231.8L1204.5,2224.3L1205.9,2231.7L1207.4,2223.2L1208.6,2231.8L1209.9,2223.3L1211.2,2231.6L1212.8,2224.4L1214.3,2232.3L1215.4,2224.5L1216.9,2231.6L1218,2224.4L1219.5,2232.9L1220.7,2224.4L1222.2,2233.1L1223.3,2224.9L1224.8,2232L1226.1,2224.1L1227.7,2232.9L1229.2,2223.5L1230.3,2232.5L1231.6,2223.3L1233.2,2233.3L1234.5,2224.9L1235.7,2233.2L1237.1,2225.1L1238.4,2233.8L1239.6,2224.6L1240.7,2234.6L1242.2,2223.7L1243.4,2233.5L1244.6,2224.2L1246.1,2233.3L1247.5,2224.7L1248.7,2234.5L1249.7,2225.3L1250.8,2234.3L1252.4,2224.8L1253.6,2233.9L1255.1,2225.3L1256.5,2234.6L1257.7,2224.4L1259.2,2234.3L1260.4,2224L1262,2235.8L1263.3,2225.4L1264.4,2235.4L1265.8,2224.1L1267,2235.6L1268.1,2225.5L1269.3,2236.1L1270.4,2224.3L1271.7,2235.5L1273,2225.2L1274.2,2235.2L1275.5,2224.6L1276.6,2236.5L1278,2225.7L1279.3,2236.4L1280.5,2225.8L1281.5,2236.1L1282.7,2224.8L1283.9,2237.5L1285.1,2226.4L1286.3,2236.4L1287.8,2225.6L1288.9,2236.7L1290.4,2226.4L1291.9,2237.3L1293.5,2226.8L1294.8,2237L1296.4,2226.4L1297.8,2237.9L1299.2,2224.9L1300.4,2237.3L1301.9,2224.5L1303.4,2238.5L1304.9,2226.1L1306.1,2240.3L1307.4,2224.5L1308.7,2240.1L1310.1,2226.4L1311.2,2239.2L1312.5,2224.8L1314,2240.3L1315,2227.9L1316.5,2239.9L1317.7,2225.8L1318.9,2245L1320.3,2231.1L1321.4,2249.2L1322.9,2235.5L1324.1,2255.4L1325.3,2239.1L1326.4,2257.2L1327.5,2243L1329,2263.2L1330.5,2251L1331.8,2273.4L1333.3,2258.1L1334.6,2281.7L1335.9,2269.5L1337.2,2288.1L1338.5,2277.9L1339.8,2299.3L1341.1,2289.4L1342.3,2309L1343.8,2301L1345.4,2321.4L1346.6,2313.9L1348,2335.9L1349.4,2326.7L1350.4,2346L1351.8,2339L1352.9,2356.7L1354.1,2349.9L1355.3,2369.7L1356.8,2363.1L1358,2385.5L1359.4,2377.1L1360.9,2401L1362.4,2393.9L1363.9,2416.3L1365.3,2409.2L1366.5,2433.6L1368,2425.3L1369.5,2449.6L1370.7,2440L1372.3,2464L1373.3,2454.9L1374.7,2476.5L1375.8,2468.8L1377.2,2488.5L1378.4,2479.7L1379.7,2502.8L1380.9,2494.2L1382.2,2515.5L1383.2,2506.4L1384.3,2525.1L1385.5,2516.5L1386.8,2540.4L1388.1,2530.5L1389.5,2553.7L1390.8,2545.7L1391.9,2566.4L1393.4,2559.7L1394.8,2581.4L1396.2,2572.9L1397.8,2594.2L1399,2586.6L1400.2,2606.1L1401.3,2596.9L1402.7,2619.5L1404.1,2609.9L1405.6,2631.5L1406.7,2622.8L1408,2643.7L1409.4,2635.5L1410.8,2655.3L1412.2,2647.7L1413.4,2664.9L1414.4,2654.9L1415.7,2675.8L1417.2,2667.4L1418.5,2685.2L1419.8,2675.9L1421,2695.2L1422.1,2682.2L1423.6,2703.5L1425.1,2693.1L1426.3,2710.7L1427.6,2700.4L1429.1,2719.7L1430.4,2707.5L1431.8,2726.1L1433.1,2714.9L1434.4,2730.8L1435.9,2720.7L1437.2,2733.4L1438.2,2723.7L1439.6,2737.9L1441,2725.1L1442.2,2737.7L1443.7,2728.8L1444.9,2737.6L1445.8,2728.3" stroke="#FF2020" stroke-width="3.0" fill="none" stroke-linejoin="bevel" shape-rendering="crispEdges"/>
<path d="M1445.8,2734.3L1447.8,2734.2L1449.8,2734.1L1451.8,2734.1L1453.8,2734L1455.8,2733.9L1457.8,2733.8L1459.8,2733.7L1461.8,2733.6L1463.8,2733.5L1465.8,2733.4L1467.8,2733.3L1469.8,2733.3L1471.8,2733.2L1473.8,2733.1L1475.8,2733L1477.8,2732.9L1479.8,2732.8L1481.8,2732.7L1483.8,2732.6L1485.8,2732.5L1487.8,2732.4L1489.8,2732.3L1491.8,2732.2L1493.8,2732.1L1495.8,2732L1497.8,2731.9L1499.8,2731.8L1501.8,2731.7L1503.8,2731.6L1505.8,2731.4L1507.8,2731.3L1509.8,2731.2L1511.8,2731.1L1513.8,2731L1515.8,2730.9L1517.8,2730.8L1519.8,2730.7L1521.8,2730.6L1523.8,2730.4L1525.8,2730.3L1527.8,2730.2L1529.8,2730.1L1531.8,2730L1533.8,2729.9L1535.8,2729.7L1537.8,2729.6L1539.8,2729.5L1541.8,2729.4L1543.8,2729.3L1545.8,2729.1L1547.8,2729L1549.8,2728.8L1551.8,2728.7L1553.8,2728.5L1555.8,2728.3L1557.8,2728.2L1559.8,2728L1561.8,2727.8L1563.8,2727.6L1565.8,2727.4L1567.8,2727.2L1569.8,2727.1L1571.8,2726.9L1573.8,2726.7L1575.8,2726.5L1577.8,2726.3L1579.8,2726.1L1581.8,2725.9L1583.8,2725.7L1585.8,2725.6L1587.8,2725.4L1589.8,2725.2L1591.8,2725L1593.8,2724.9L1595.8,2724.7L1597.8,2724.6L1599.8,2724.4L1601.8,2724.3L1603.8,2724.2L1605.8,2724.1L1607.8,2724L1609.8,2723.9L1611.8,2723.8L1613.8,2723.7L1615.8,2723.6L1617.8,2723.6L1619.8,2723.5L1621.8,2723.5L1623.8,2723.5L1625.8,2723.5L1627.8,2723.5L1629.8,2723.5L1631.8,2723.5L1633.8,2723.5L1635.8,2723.5L1637.8,2723.5L1639.8,2723.5L1641.8,2723.5L1643.8,2723.5L1645.8,2723.5L1647.8,2723.5L1649.8,2723.5L1651.8,2723.5L1653.8,2723.5L1655.8,2723.5L1657.8,2723.5L1659.8,2723.5L1661.8,2723.5L1663.8,2723.5L1665.8,2723.5L1667.8,2723.5L1669.8,2723.5L1671.8,2723.5L1673.8,2723.5L1675.8,2723.5L1677.8,2723.5L1679.8,2723.5L1681.8,2723.5L1683.8,2723.5L1685.8,2723.5L1687.8,2723.5L1689.8,2723.5L1691.8,2723.5L1693.8,2723.5L1695.8,2723.5L1697.8,2723.5L1699.8,2723.5L1701.8,2723.5L1703.8,2723.5L1705.8,2723.5L1707.8,2723.5L1709.8,2723.5L1711.8,2723.5L1713.8,2723.5L1715.8,2723.5L1717.8,2723.5L1719.8,2723.5L1721.8,2723.5L1723.8,2723.5L1725.8,2723.5L1727.8,2723.5L1729.8,2723.5L1731.8,2723.5L1733.8,2723.5L1735.8,2723.5L1737.8,2723.5L1739.8,2723.5L1741.8,2723.5L1743.8,2723.5L1745.8,2723.5L1747.8,2723.5L1749.8,2723.5L1751.8,2723.5L1753.8,2723.5L1755.8,2723.5L1757.8,2723.5L1759.8,2723.5L1761.8,2723.5L1763.8,2723.5L1765.8,2723.5L1767.8,2723.5L1769.8,2723.5L1771.8,2723.5L1773.8,2723.5L1775.8,2723.5L1777.8,2723.5L1779.8,2723.5L1781.8,2723.5L1783.8,2723.5L1785.8,2723.5L1787.8,2723.5L1789.8,2723.5L1791.8,2723.5L1793.8,2723.5L1795.8,2723.6L1797.8,2723.6L1799.8,2723.6L1801.8,2723.7L1803.8,2723.8L1805.8,2723.8L1807.8,2723.9L1809.8,2724L1811.8,2724.1L1813.8,2724.2L1815.8,2724.2L1817.8,2724.3L1819.8,2724.4L1821.8,2724.5L1823.8,2724.5L1825.8,2724.6L1827.8,2724.7L1829.8,2724.8L1831.8,2724.9L1833.8,2725L1835.8,2725.1L1837.8,2725.2L1839.8,2725.3L1841.8,2725.4L1843.8,2725.5L1845.8,2725.6L1847.8,2725.8L1849.8,2725.9L1851.8,2726L1853.8,2726.1L1855.8,2726.2L1857.8,2726.3L1859.8,2726.5L1861.8,2726.6L1863.8,2726.7L1865.8,2726.8L1867.8,2727L1869.8,2727.1L1871.8,2727.2L1873.8,2727.4L1875.8,2727.5L1877.8,2727.6L1879.8,2727.7L1881.8,2727.9L1883.8,2728L1885.8,2728.1L1887.8,2728.3L1889.8,2728.4L1891.8,2728.5L1893.8,2728.6L1895.8,2728.7L1897.8,2728.9L1899.8,2729L1901.8,2729.1L1903.8,2729.2L1905.8,2729.3L1907.8,2729.5L1909.8,2729.6L1911.8,2729.7L1913.8,2729.8L1915.8,2729.9L1917.8,2730.1L1919.8,2730.2L1921.8,2730.3L1923.8,2730.4L1925.8,2730.5L1927.8,2730.7L1929.8,2730.8L1931.8,2730.9L1933.8,2731L1935.8,2731.1L1937.8,2731.3L1939.8,2731.4L1941.8,2731.5L1943.8,2731.6L1945.8,2731.7L1947.8,2731.9L1949.8,2732L1951.8,2732.1L1953.8,2732.2L1955.8,2732.4L1957.8,2732.5L1959.8,2732.6L1961.8,2732.7L1963.8,2732.8L1965.8,2733L1967.8,2733.1L1969.8,2733.2L1971.8,2733.3L1973.8,2733.5L1975.8,2733.6L1977.8,2733.7L1979.8,2733.8L1981.8,2734L1983.8,2734.1L1985.8,2734.2L1987.8,2734.3L1989.8,2734.5L1991.8,2734.6L1993.8,2734.7L1995.8,2734.8L1997.8,2735L1999.8,2735.1L2001.8,2735.2L2003.8,2735.3L2005.8,2735.5L2007.8,2735.6L2009.8,2735.7L2011.3,2735.8" stroke="#FF2020" stroke-width="2.0" fill="none" stroke-linejoin="bevel" shape-rendering="crispEdges"/>
<path d="M2011.3,2728.8L2012.5,2728L2013.6,2728.4L2015.1,2727L2016.3,2727L2017.8,2725.2L2018.9,2725L2020.1,2723.3L2021.3,2722.7L2022.4,2721L2023.8,2720L2025,2717.6L2026.6,2715.5L2027.6,2712.4L2028.9,2709.9L2030,2706.1L2031.2,2703.4L2032.5,2699L2033.7,2696.2L2035.1,2690.6L2036.2,2687.3L2037.7,2680.6L2039,2675.6L2040.2,2669.4L2041.5,2664.7L2042.9,2657.8L2044.3,2652.1L2045.6,2646L2047.1,2639.4L2048.4,2632.4L2049.7,2627L2050.9,2620.2L2052,2615.1L2053.1,2608.7L2054.2,2603.1L2055.6,2594.9L2056.9,2588.2L2057.9,2581.4L2059.2,2574.7L2060.3,2567.6L2061.6,2560.5L2062.7,2553.3L2064.1,2545.2L2065.3,2537.3L2066.4,2531.1L2067.6,2523.5L2069,2515.5L2070.4,2506.5L2071.8,2499.3L2073.3,2490.2L2074.7,2482.6L2076.3,2473.3L2077.5,2467.3L2078.8,2459.3L2080.1,2453.1L2081.3,2446.4L2082.8,2439.7L2083.9,2433.6L2085.4,2426.9L2086.6,2420.5L2087.8,2415.4L2088.9,2409.2L2090.4,2401.7L2091.8,2393.6L2092.9,2388.1L2094.4,2379.4L2095.6,2373.5L2096.8,2366.1L2098.4,2358.8L2099.9,2350.4L2101,2345.4L2102.1,2338.9L2103.6,2332.3L2105,2324.8L2106.5,2318.3L2108,2310.9L2109.4,2305.1L2110.4,2299.3L2111.7,2294.2L2112.9,2288.2L2114.4,2282.5L2115.6,2277.4L2117,2273.2L2118.3,2268.1L2119.8,2264L2121.3,2258.9L2122.6,2256.1L2124.1,2251.2L2125.4,2248.5L2126.7,2244.6L2128,2242L2129.1,2238.3L2130.2,2236.4L2131.6,2232.7L2132.9,2230.7L2134.1,2228.2L2135.2,2227.5L2136.3,2225.7L2137.7,2224.9L2138.8,2223L2140,2222.7L2141.2,2221.3L2142.6,2221.3L2143.6,2220.3L2144.8,2221L2145.9,2220.3L2147.2,2221.1L2148.2,2220.2L2149.7,2221.3L2151.3,2220.4L2152.6,2221.4L2154,2220.2L2155.4,2221.7L2156.8,2220.5L2158.2,2221.8L2159.4,2220.4L2160.9,2222L2162.1,2220.6L2163.2,2222.4L2164.3,2220.5L2165.6,2222.6L2166.7,2220.8L2168.1,2223L2169.3,2221L2170.5,2223.3L2171.7,2220.9L2173,2223.3L2174.5,2221.1L2175.7,2223.5L2177,2221.3L2178.3,2223.8L2179.3,2221.2L2180.4,2223.9L2181.6,2221.4L2183,2224.1L2184.3,2221.5L2185.5,2224.2L2186.8,2221.2L2188.1,2224.9L2189.3,2221.4L2190.9,2224.5L2192.4,2221.1L2193.9,2224.9L2195.2,2221.3L2196.6,2225.3L2197.8,2220.8L2198.9,2225.5L2200,2221.3L2201.4,2225.3L2202.8,2220.7L2204.3,2225.5L2205.6,2220.6L2206.9,2226L2208.2,2221.1L2209.3,2226.1L2210.8,2220.6L2212,2226.6L2213.1,2221.4L2214.4,2227.1L2215.7,2221L2216.7,2227.5L2217.9,2221.3L2219.2,2227.1L2220.4,2221.2L2221.5,2227.4L2223,2220.9L2224.5,2227.9L2225.8,2222.1L2227.3,2228.5L2228.8,2221.6L2230.1,2229.1L2231.3,2222.2L2232.5,2228.4L2233.9,2221.1L2235,2229.6L2236.1,2221.2L2237.6,2229L2238.8,2221.9L2240.3,2230.3L2241.5,2222.3L2242.9,2230.1L2244,2222L2245.1,2230.4L2246.3,2222.6L2247.4,2229.9L2248.4,2221.8L2249.8,2231.4L2251,2222.2L2252.5,2230.8L2254,2223.5L2255.3,2232.6L2256.8,2223.7L2258.1,2231.5L2258.5,2223.6" stroke="#FF2020" stroke-width="3.0" fill="none" stroke-linejoin="bevel" shape-rendering="crispEdges"/>
<path d="M267.3,2698V2735M932.7,2735.8V2728.4M2011.3,2735.8V2728.4" stroke="#FF2020" stroke-width="2.0" fill="none" shape-rendering="crispEdges"/>
<text transform="translate(250.5,2213.5) scale(0.905,1)" font-size="82" text-anchor="end" stroke="#000" stroke-width="0.3">4</text>
<text transform="translate(250.5,2351.5) scale(0.905,1)" font-size="82" text-anchor="end" stroke="#000" stroke-width="0.3">3</text>
<text transform="translate(250.5,2489.6) scale(0.905,1)" font-size="82" text-anchor="end" stroke="#000" stroke-width="0.3">2</text>
<text transform="translate(250.5,2627.6) scale(0.905,1)" font-size="82" text-anchor="end" stroke="#000" stroke-width="0.3">1</text>
<text transform="translate(250.5,2765.7) scale(0.905,1)" font-size="82" text-anchor="end" stroke="#000" stroke-width="0.3">0</text>
<text transform="translate(196,2903) scale(0.905,1)" font-size="82" stroke="#000" stroke-width="1.1">-</text><text transform="translate(222.7,2903) scale(0.905,1)" font-size="82" stroke="#000" stroke-width="0.3">1</text>
<text transform="translate(283,2941) scale(0.905,1)" font-size="82" text-anchor="middle" stroke="#000" stroke-width="0.3">0</text>
<text transform="translate(689.5,2941) scale(0.905,1)" font-size="82" text-anchor="middle" stroke="#000" stroke-width="0.3">0.05</text>
<text transform="translate(1087.9,2941) scale(0.905,1)" font-size="82" text-anchor="middle" stroke="#000" stroke-width="0.3">0.1</text>
<text transform="translate(1486.4,2941) scale(0.905,1)" font-size="82" text-anchor="middle" stroke="#000" stroke-width="0.3">0.15</text>
<text transform="translate(1884.8,2941) scale(0.905,1)" font-size="82" text-anchor="middle" stroke="#000" stroke-width="0.3">0.2</text>
<text transform="translate(2283.3,2941) scale(0.905,1)" font-size="82" text-anchor="middle" stroke="#000" stroke-width="0.3">0.25</text>
<text transform="translate(1217,3009.5) scale(0.98,1)" font-size="82" text-anchor="start" stroke="#000" stroke-width="0.3">Time (s)</text>
<text transform="translate(194.7,2850.5) rotate(-90) scale(0.952,1)" font-size="82" text-anchor="start" stroke="#000" stroke-width="0.3">Phase torque(N<tspan dy="-16">·</tspan><tspan dy="16">m)</tspan></text>
<text x="1246" y="3119.5" font-size="82" text-anchor="middle" stroke="#000" stroke-width="0.5">(<tspan font-weight="bold">c</tspan>)</text>
</g>
</svg>
</body>
</html>
